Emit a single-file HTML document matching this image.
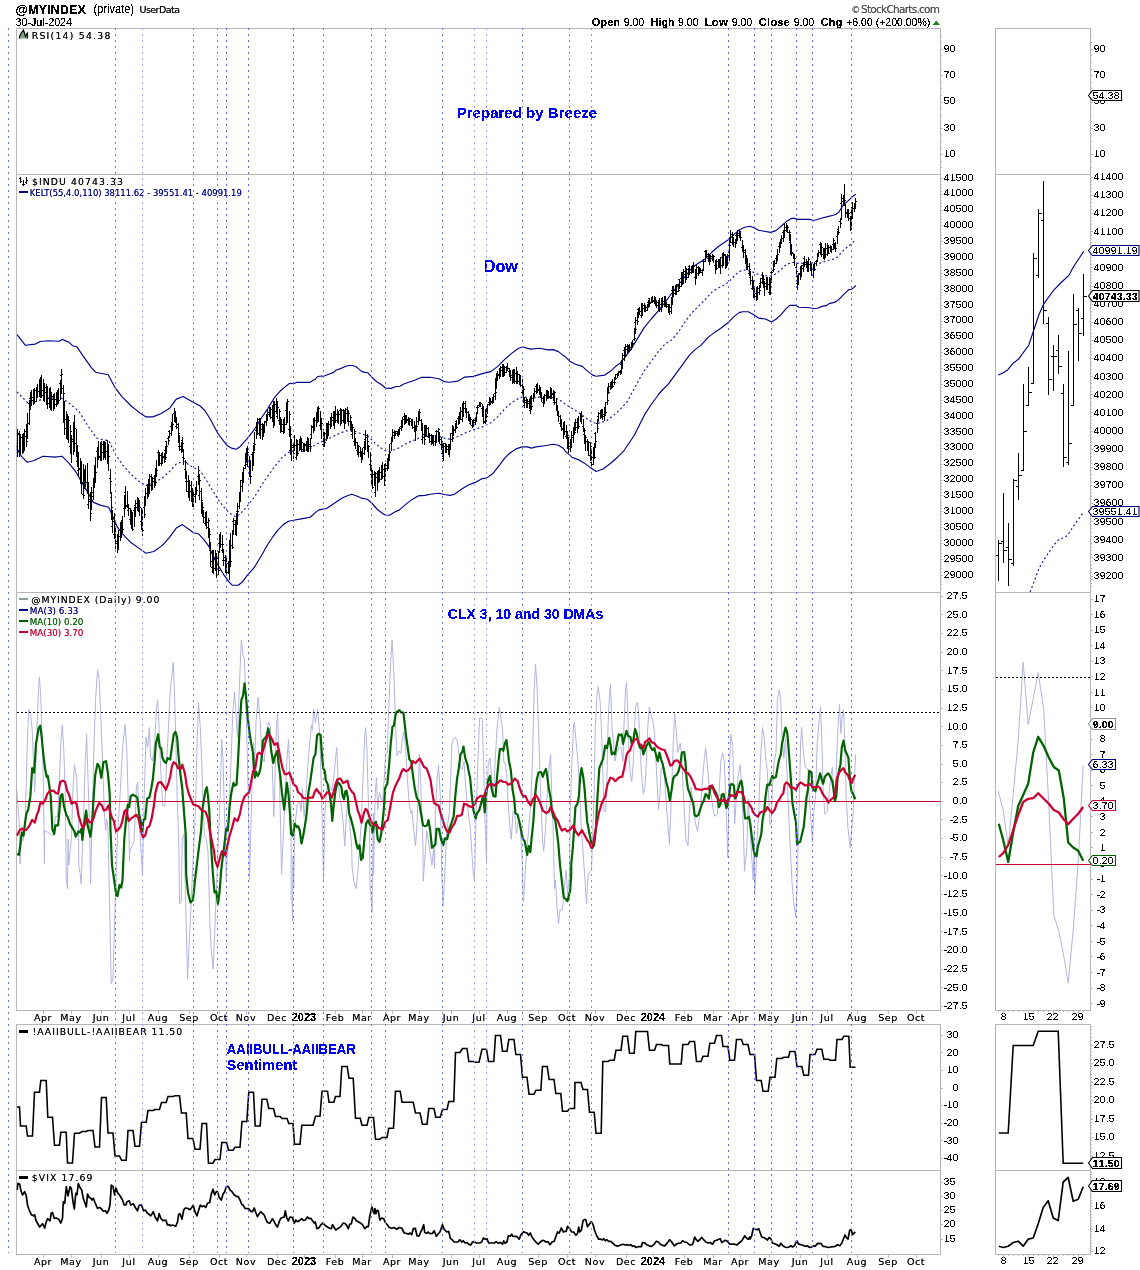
<!DOCTYPE html>
<html><head><meta charset="utf-8"><title>@MYINDEX</title>
<style>
html,body{margin:0;padding:0;background:#fff;}
body{width:1140px;height:1270px;overflow:hidden;}
svg{display:block;}
text{white-space:pre;}
</style></head><body>
<svg width="1140" height="1270" viewBox="0 0 1140 1270">
<defs><filter id="crisp" x="-5%" y="-20%" width="110%" height="140%" color-interpolation-filters="sRGB"><feComponentTransfer><feFuncA type="discrete" tableValues="0 0 1 1 1"/></feComponentTransfer></filter><filter id="crisp2" x="-5%" y="-20%" width="110%" height="140%" color-interpolation-filters="sRGB"><feComponentTransfer><feFuncA type="table" tableValues="0 0.5 0.85 1"/></feComponentTransfer></filter></defs>
<rect x="0" y="0" width="1140" height="1270" fill="#fff"/>
<g shape-rendering="crispEdges">
<rect x="16.5" y="28.5" width="924.0" height="146.0" stroke="#b6b6b6" fill="none" stroke-width="1" />
<rect x="995.5" y="28.5" width="95.0" height="146.0" stroke="#b6b6b6" fill="none" stroke-width="1" />
<rect x="16.5" y="174.5" width="924.0" height="418.0" stroke="#b6b6b6" fill="none" stroke-width="1" />
<rect x="995.5" y="174.5" width="95.0" height="418.0" stroke="#b6b6b6" fill="none" stroke-width="1" />
<rect x="16.5" y="592.5" width="924.0" height="418.0" stroke="#b6b6b6" fill="none" stroke-width="1" />
<rect x="995.5" y="592.5" width="95.0" height="418.0" stroke="#b6b6b6" fill="none" stroke-width="1" />
<rect x="16.5" y="1024.5" width="924.0" height="146.0" stroke="#b6b6b6" fill="none" stroke-width="1" />
<rect x="995.5" y="1024.5" width="95.0" height="146.0" stroke="#b6b6b6" fill="none" stroke-width="1" />
<rect x="16.5" y="1170.5" width="924.0" height="84.0" stroke="#b6b6b6" fill="none" stroke-width="1" />
<rect x="995.5" y="1170.5" width="95.0" height="84.0" stroke="#b6b6b6" fill="none" stroke-width="1" />
</g>
<text x="15.5" y="14" font-family="Liberation Sans, sans-serif" font-size="13.5" text-anchor="start" fill="#000" font-weight="bold"  textLength="70.5" lengthAdjust="spacingAndGlyphs" filter="url(#crisp)">@MYINDEX</text>
<text x="93.5" y="12.5" font-family="Liberation Sans, sans-serif" font-size="12" text-anchor="start" fill="#000" font-weight="normal"  textLength="40.5" lengthAdjust="spacingAndGlyphs" filter="url(#crisp)">(private)</text>
<text x="139.5" y="12.5" font-family="DejaVu Sans, sans-serif" font-size="9.5" text-anchor="start" fill="#000" font-weight="normal"  textLength="40.5" lengthAdjust="spacing" filter="url(#crisp2)">UserData</text>
<text x="15.5" y="25.8" font-family="Liberation Sans, sans-serif" font-size="11" text-anchor="start" fill="#000" font-weight="normal"  textLength="56.5" lengthAdjust="spacingAndGlyphs" filter="url(#crisp)">30-Jul-2024</text>
<text x="851" y="12.5" font-family="DejaVu Sans, sans-serif" font-size="9.5" text-anchor="start" fill="#4a4a4a" font-weight="normal"  textLength="8" lengthAdjust="spacing" filter="url(#crisp2)">©</text>
<text x="861" y="12.5" font-family="DejaVu Sans, sans-serif" font-size="10.5" text-anchor="start" fill="#4a4a4a" font-weight="normal"  textLength="79" lengthAdjust="spacing" filter="url(#crisp2)">StockCharts.com</text>
<text x="591.7" y="25.8" font-family="Liberation Sans, sans-serif" font-size="11" text-anchor="start" fill="#000" font-weight="bold"  textLength="28.5" lengthAdjust="spacingAndGlyphs" filter="url(#crisp)">Open</text>
<text x="623.7" y="25.8" font-family="Liberation Sans, sans-serif" font-size="11" text-anchor="start" fill="#000" font-weight="normal"  textLength="20.5" lengthAdjust="spacingAndGlyphs" filter="url(#crisp)">9.00</text>
<text x="650.8" y="25.8" font-family="Liberation Sans, sans-serif" font-size="11" text-anchor="start" fill="#000" font-weight="bold"  textLength="23.7" lengthAdjust="spacingAndGlyphs" filter="url(#crisp)">High</text>
<text x="678" y="25.8" font-family="Liberation Sans, sans-serif" font-size="11" text-anchor="start" fill="#000" font-weight="normal"  textLength="20.5" lengthAdjust="spacingAndGlyphs" filter="url(#crisp)">9.00</text>
<text x="704.7" y="25.8" font-family="Liberation Sans, sans-serif" font-size="11" text-anchor="start" fill="#000" font-weight="bold"  textLength="23.3" lengthAdjust="spacingAndGlyphs" filter="url(#crisp)">Low</text>
<text x="731.7" y="25.8" font-family="Liberation Sans, sans-serif" font-size="11" text-anchor="start" fill="#000" font-weight="normal"  textLength="20.5" lengthAdjust="spacingAndGlyphs" filter="url(#crisp)">9.00</text>
<text x="758.8" y="25.8" font-family="Liberation Sans, sans-serif" font-size="11" text-anchor="start" fill="#000" font-weight="bold"  textLength="31.2" lengthAdjust="spacingAndGlyphs" filter="url(#crisp)">Close</text>
<text x="793.7" y="25.8" font-family="Liberation Sans, sans-serif" font-size="11" text-anchor="start" fill="#000" font-weight="normal"  textLength="20.5" lengthAdjust="spacingAndGlyphs" filter="url(#crisp)">9.00</text>
<text x="820.8" y="25.8" font-family="Liberation Sans, sans-serif" font-size="11" text-anchor="start" fill="#000" font-weight="bold"  textLength="21.4" lengthAdjust="spacingAndGlyphs" filter="url(#crisp)">Chg</text>
<text x="846.2" y="25.8" font-family="Liberation Sans, sans-serif" font-size="11" text-anchor="start" fill="#000" font-weight="normal"  textLength="84.1" lengthAdjust="spacingAndGlyphs" filter="url(#crisp)">+6.00 (+200.00%)</text>
<polygon points="932.5,25 940,25 936.2,20.5" fill="#2a7a2a"/>
<text x="943.8 949.8" y="52" font-family="Liberation Sans, sans-serif" font-size="10.2" fill="#000" font-weight="normal" text-rendering="geometricPrecision" filter="url(#crisp)">90</text>
<text x="943.8 949.8" y="78" font-family="Liberation Sans, sans-serif" font-size="10.2" fill="#000" font-weight="normal" text-rendering="geometricPrecision" filter="url(#crisp)">70</text>
<text x="943.8 949.8" y="104" font-family="Liberation Sans, sans-serif" font-size="10.2" fill="#000" font-weight="normal" text-rendering="geometricPrecision" filter="url(#crisp)">50</text>
<text x="943.8 949.8" y="131" font-family="Liberation Sans, sans-serif" font-size="10.2" fill="#000" font-weight="normal" text-rendering="geometricPrecision" filter="url(#crisp)">30</text>
<text x="943.8 949.8" y="157" font-family="Liberation Sans, sans-serif" font-size="10.2" fill="#000" font-weight="normal" text-rendering="geometricPrecision" filter="url(#crisp)">10</text>
<text x="1093.8 1099.8" y="52" font-family="Liberation Sans, sans-serif" font-size="10.2" fill="#000" font-weight="normal" text-rendering="geometricPrecision" filter="url(#crisp)">90</text>
<text x="1093.8 1099.8" y="78" font-family="Liberation Sans, sans-serif" font-size="10.2" fill="#000" font-weight="normal" text-rendering="geometricPrecision" filter="url(#crisp)">70</text>
<text x="1093.8 1099.8" y="104" font-family="Liberation Sans, sans-serif" font-size="10.2" fill="#000" font-weight="normal" text-rendering="geometricPrecision" filter="url(#crisp)">50</text>
<text x="1093.8 1099.8" y="131" font-family="Liberation Sans, sans-serif" font-size="10.2" fill="#000" font-weight="normal" text-rendering="geometricPrecision" filter="url(#crisp)">30</text>
<text x="1093.8 1099.8" y="157" font-family="Liberation Sans, sans-serif" font-size="10.2" fill="#000" font-weight="normal" text-rendering="geometricPrecision" filter="url(#crisp)">10</text>
<text x="943.8 949.8 955.8 961.8 967.8" y="181" font-family="Liberation Sans, sans-serif" font-size="10.2" fill="#000" font-weight="normal" text-rendering="geometricPrecision" filter="url(#crisp)">41500</text>
<text x="943.8 949.8 955.8 961.8 967.8" y="196" font-family="Liberation Sans, sans-serif" font-size="10.2" fill="#000" font-weight="normal" text-rendering="geometricPrecision" filter="url(#crisp)">41000</text>
<text x="943.8 949.8 955.8 961.8 967.8" y="212" font-family="Liberation Sans, sans-serif" font-size="10.2" fill="#000" font-weight="normal" text-rendering="geometricPrecision" filter="url(#crisp)">40500</text>
<text x="943.8 949.8 955.8 961.8 967.8" y="228" font-family="Liberation Sans, sans-serif" font-size="10.2" fill="#000" font-weight="normal" text-rendering="geometricPrecision" filter="url(#crisp)">40000</text>
<text x="943.8 949.8 955.8 961.8 967.8" y="244" font-family="Liberation Sans, sans-serif" font-size="10.2" fill="#000" font-weight="normal" text-rendering="geometricPrecision" filter="url(#crisp)">39500</text>
<text x="943.8 949.8 955.8 961.8 967.8" y="260" font-family="Liberation Sans, sans-serif" font-size="10.2" fill="#000" font-weight="normal" text-rendering="geometricPrecision" filter="url(#crisp)">39000</text>
<text x="943.8 949.8 955.8 961.8 967.8" y="276" font-family="Liberation Sans, sans-serif" font-size="10.2" fill="#000" font-weight="normal" text-rendering="geometricPrecision" filter="url(#crisp)">38500</text>
<text x="943.8 949.8 955.8 961.8 967.8" y="292" font-family="Liberation Sans, sans-serif" font-size="10.2" fill="#000" font-weight="normal" text-rendering="geometricPrecision" filter="url(#crisp)">38000</text>
<text x="943.8 949.8 955.8 961.8 967.8" y="308" font-family="Liberation Sans, sans-serif" font-size="10.2" fill="#000" font-weight="normal" text-rendering="geometricPrecision" filter="url(#crisp)">37500</text>
<text x="943.8 949.8 955.8 961.8 967.8" y="323" font-family="Liberation Sans, sans-serif" font-size="10.2" fill="#000" font-weight="normal" text-rendering="geometricPrecision" filter="url(#crisp)">37000</text>
<text x="943.8 949.8 955.8 961.8 967.8" y="339" font-family="Liberation Sans, sans-serif" font-size="10.2" fill="#000" font-weight="normal" text-rendering="geometricPrecision" filter="url(#crisp)">36500</text>
<text x="943.8 949.8 955.8 961.8 967.8" y="355" font-family="Liberation Sans, sans-serif" font-size="10.2" fill="#000" font-weight="normal" text-rendering="geometricPrecision" filter="url(#crisp)">36000</text>
<text x="943.8 949.8 955.8 961.8 967.8" y="371" font-family="Liberation Sans, sans-serif" font-size="10.2" fill="#000" font-weight="normal" text-rendering="geometricPrecision" filter="url(#crisp)">35500</text>
<text x="943.8 949.8 955.8 961.8 967.8" y="387" font-family="Liberation Sans, sans-serif" font-size="10.2" fill="#000" font-weight="normal" text-rendering="geometricPrecision" filter="url(#crisp)">35000</text>
<text x="943.8 949.8 955.8 961.8 967.8" y="403" font-family="Liberation Sans, sans-serif" font-size="10.2" fill="#000" font-weight="normal" text-rendering="geometricPrecision" filter="url(#crisp)">34500</text>
<text x="943.8 949.8 955.8 961.8 967.8" y="419" font-family="Liberation Sans, sans-serif" font-size="10.2" fill="#000" font-weight="normal" text-rendering="geometricPrecision" filter="url(#crisp)">34000</text>
<text x="943.8 949.8 955.8 961.8 967.8" y="435" font-family="Liberation Sans, sans-serif" font-size="10.2" fill="#000" font-weight="normal" text-rendering="geometricPrecision" filter="url(#crisp)">33500</text>
<text x="943.8 949.8 955.8 961.8 967.8" y="450" font-family="Liberation Sans, sans-serif" font-size="10.2" fill="#000" font-weight="normal" text-rendering="geometricPrecision" filter="url(#crisp)">33000</text>
<text x="943.8 949.8 955.8 961.8 967.8" y="466" font-family="Liberation Sans, sans-serif" font-size="10.2" fill="#000" font-weight="normal" text-rendering="geometricPrecision" filter="url(#crisp)">32500</text>
<text x="943.8 949.8 955.8 961.8 967.8" y="482" font-family="Liberation Sans, sans-serif" font-size="10.2" fill="#000" font-weight="normal" text-rendering="geometricPrecision" filter="url(#crisp)">32000</text>
<text x="943.8 949.8 955.8 961.8 967.8" y="498" font-family="Liberation Sans, sans-serif" font-size="10.2" fill="#000" font-weight="normal" text-rendering="geometricPrecision" filter="url(#crisp)">31500</text>
<text x="943.8 949.8 955.8 961.8 967.8" y="514" font-family="Liberation Sans, sans-serif" font-size="10.2" fill="#000" font-weight="normal" text-rendering="geometricPrecision" filter="url(#crisp)">31000</text>
<text x="943.8 949.8 955.8 961.8 967.8" y="530" font-family="Liberation Sans, sans-serif" font-size="10.2" fill="#000" font-weight="normal" text-rendering="geometricPrecision" filter="url(#crisp)">30500</text>
<text x="943.8 949.8 955.8 961.8 967.8" y="546" font-family="Liberation Sans, sans-serif" font-size="10.2" fill="#000" font-weight="normal" text-rendering="geometricPrecision" filter="url(#crisp)">30000</text>
<text x="943.8 949.8 955.8 961.8 967.8" y="562" font-family="Liberation Sans, sans-serif" font-size="10.2" fill="#000" font-weight="normal" text-rendering="geometricPrecision" filter="url(#crisp)">29500</text>
<text x="943.8 949.8 955.8 961.8 967.8" y="578" font-family="Liberation Sans, sans-serif" font-size="10.2" fill="#000" font-weight="normal" text-rendering="geometricPrecision" filter="url(#crisp)">29000</text>
<text x="1093.8 1099.8 1105.8 1111.8 1117.8" y="180" font-family="Liberation Sans, sans-serif" font-size="10.2" fill="#000" font-weight="normal" text-rendering="geometricPrecision" filter="url(#crisp)">41400</text>
<text x="1093.8 1099.8 1105.8 1111.8 1117.8" y="198" font-family="Liberation Sans, sans-serif" font-size="10.2" fill="#000" font-weight="normal" text-rendering="geometricPrecision" filter="url(#crisp)">41300</text>
<text x="1093.8 1099.8 1105.8 1111.8 1117.8" y="216" font-family="Liberation Sans, sans-serif" font-size="10.2" fill="#000" font-weight="normal" text-rendering="geometricPrecision" filter="url(#crisp)">41200</text>
<text x="1093.8 1099.8 1105.8 1111.8 1117.8" y="235" font-family="Liberation Sans, sans-serif" font-size="10.2" fill="#000" font-weight="normal" text-rendering="geometricPrecision" filter="url(#crisp)">41100</text>
<text x="1093.8 1099.8 1105.8 1111.8 1117.8" y="253" font-family="Liberation Sans, sans-serif" font-size="10.2" fill="#000" font-weight="normal" text-rendering="geometricPrecision" filter="url(#crisp)">41000</text>
<text x="1093.8 1099.8 1105.8 1111.8 1117.8" y="271" font-family="Liberation Sans, sans-serif" font-size="10.2" fill="#000" font-weight="normal" text-rendering="geometricPrecision" filter="url(#crisp)">40900</text>
<text x="1093.8 1099.8 1105.8 1111.8 1117.8" y="289" font-family="Liberation Sans, sans-serif" font-size="10.2" fill="#000" font-weight="normal" text-rendering="geometricPrecision" filter="url(#crisp)">40800</text>
<text x="1093.8 1099.8 1105.8 1111.8 1117.8" y="307" font-family="Liberation Sans, sans-serif" font-size="10.2" fill="#000" font-weight="normal" text-rendering="geometricPrecision" filter="url(#crisp)">40700</text>
<text x="1093.8 1099.8 1105.8 1111.8 1117.8" y="325" font-family="Liberation Sans, sans-serif" font-size="10.2" fill="#000" font-weight="normal" text-rendering="geometricPrecision" filter="url(#crisp)">40600</text>
<text x="1093.8 1099.8 1105.8 1111.8 1117.8" y="343" font-family="Liberation Sans, sans-serif" font-size="10.2" fill="#000" font-weight="normal" text-rendering="geometricPrecision" filter="url(#crisp)">40500</text>
<text x="1093.8 1099.8 1105.8 1111.8 1117.8" y="361" font-family="Liberation Sans, sans-serif" font-size="10.2" fill="#000" font-weight="normal" text-rendering="geometricPrecision" filter="url(#crisp)">40400</text>
<text x="1093.8 1099.8 1105.8 1111.8 1117.8" y="380" font-family="Liberation Sans, sans-serif" font-size="10.2" fill="#000" font-weight="normal" text-rendering="geometricPrecision" filter="url(#crisp)">40300</text>
<text x="1093.8 1099.8 1105.8 1111.8 1117.8" y="398" font-family="Liberation Sans, sans-serif" font-size="10.2" fill="#000" font-weight="normal" text-rendering="geometricPrecision" filter="url(#crisp)">40200</text>
<text x="1093.8 1099.8 1105.8 1111.8 1117.8" y="416" font-family="Liberation Sans, sans-serif" font-size="10.2" fill="#000" font-weight="normal" text-rendering="geometricPrecision" filter="url(#crisp)">40100</text>
<text x="1093.8 1099.8 1105.8 1111.8 1117.8" y="434" font-family="Liberation Sans, sans-serif" font-size="10.2" fill="#000" font-weight="normal" text-rendering="geometricPrecision" filter="url(#crisp)">40000</text>
<text x="1093.8 1099.8 1105.8 1111.8 1117.8" y="452" font-family="Liberation Sans, sans-serif" font-size="10.2" fill="#000" font-weight="normal" text-rendering="geometricPrecision" filter="url(#crisp)">39900</text>
<text x="1093.8 1099.8 1105.8 1111.8 1117.8" y="470" font-family="Liberation Sans, sans-serif" font-size="10.2" fill="#000" font-weight="normal" text-rendering="geometricPrecision" filter="url(#crisp)">39800</text>
<text x="1093.8 1099.8 1105.8 1111.8 1117.8" y="488" font-family="Liberation Sans, sans-serif" font-size="10.2" fill="#000" font-weight="normal" text-rendering="geometricPrecision" filter="url(#crisp)">39700</text>
<text x="1093.8 1099.8 1105.8 1111.8 1117.8" y="506" font-family="Liberation Sans, sans-serif" font-size="10.2" fill="#000" font-weight="normal" text-rendering="geometricPrecision" filter="url(#crisp)">39600</text>
<text x="1093.8 1099.8 1105.8 1111.8 1117.8" y="525" font-family="Liberation Sans, sans-serif" font-size="10.2" fill="#000" font-weight="normal" text-rendering="geometricPrecision" filter="url(#crisp)">39500</text>
<text x="1093.8 1099.8 1105.8 1111.8 1117.8" y="543" font-family="Liberation Sans, sans-serif" font-size="10.2" fill="#000" font-weight="normal" text-rendering="geometricPrecision" filter="url(#crisp)">39400</text>
<text x="1093.8 1099.8 1105.8 1111.8 1117.8" y="561" font-family="Liberation Sans, sans-serif" font-size="10.2" fill="#000" font-weight="normal" text-rendering="geometricPrecision" filter="url(#crisp)">39300</text>
<text x="1093.8 1099.8 1105.8 1111.8 1117.8" y="579" font-family="Liberation Sans, sans-serif" font-size="10.2" fill="#000" font-weight="normal" text-rendering="geometricPrecision" filter="url(#crisp)">39200</text>
<text x="946.8 952.8 958.8 961.8" y="599" font-family="Liberation Sans, sans-serif" font-size="10.2" fill="#000" font-weight="normal" text-rendering="geometricPrecision" filter="url(#crisp)">27.5</text>
<text x="946.8 952.8 958.8 961.8" y="618" font-family="Liberation Sans, sans-serif" font-size="10.2" fill="#000" font-weight="normal" text-rendering="geometricPrecision" filter="url(#crisp)">25.0</text>
<text x="946.8 952.8 958.8 961.8" y="636" font-family="Liberation Sans, sans-serif" font-size="10.2" fill="#000" font-weight="normal" text-rendering="geometricPrecision" filter="url(#crisp)">22.5</text>
<text x="946.8 952.8 958.8 961.8" y="655" font-family="Liberation Sans, sans-serif" font-size="10.2" fill="#000" font-weight="normal" text-rendering="geometricPrecision" filter="url(#crisp)">20.0</text>
<text x="946.8 952.8 958.8 961.8" y="674" font-family="Liberation Sans, sans-serif" font-size="10.2" fill="#000" font-weight="normal" text-rendering="geometricPrecision" filter="url(#crisp)">17.5</text>
<text x="946.8 952.8 958.8 961.8" y="692" font-family="Liberation Sans, sans-serif" font-size="10.2" fill="#000" font-weight="normal" text-rendering="geometricPrecision" filter="url(#crisp)">15.0</text>
<text x="946.8 952.8 958.8 961.8" y="711" font-family="Liberation Sans, sans-serif" font-size="10.2" fill="#000" font-weight="normal" text-rendering="geometricPrecision" filter="url(#crisp)">12.5</text>
<text x="946.8 952.8 958.8 961.8" y="730" font-family="Liberation Sans, sans-serif" font-size="10.2" fill="#000" font-weight="normal" text-rendering="geometricPrecision" filter="url(#crisp)">10.0</text>
<text x="952.8 958.8 961.8" y="748" font-family="Liberation Sans, sans-serif" font-size="10.2" fill="#000" font-weight="normal" text-rendering="geometricPrecision" filter="url(#crisp)">7.5</text>
<text x="952.8 958.8 961.8" y="767" font-family="Liberation Sans, sans-serif" font-size="10.2" fill="#000" font-weight="normal" text-rendering="geometricPrecision" filter="url(#crisp)">5.0</text>
<text x="952.8 958.8 961.8" y="785" font-family="Liberation Sans, sans-serif" font-size="10.2" fill="#000" font-weight="normal" text-rendering="geometricPrecision" filter="url(#crisp)">2.5</text>
<text x="952.8 958.8 961.8" y="804" font-family="Liberation Sans, sans-serif" font-size="10.2" fill="#000" font-weight="normal" text-rendering="geometricPrecision" filter="url(#crisp)">0.0</text>
<text x="949.8 952.8 958.8 961.8" y="823" font-family="Liberation Sans, sans-serif" font-size="10.2" fill="#000" font-weight="normal" text-rendering="geometricPrecision" filter="url(#crisp)">-2.5</text>
<text x="949.8 952.8 958.8 961.8" y="841" font-family="Liberation Sans, sans-serif" font-size="10.2" fill="#000" font-weight="normal" text-rendering="geometricPrecision" filter="url(#crisp)">-5.0</text>
<text x="949.8 952.8 958.8 961.8" y="860" font-family="Liberation Sans, sans-serif" font-size="10.2" fill="#000" font-weight="normal" text-rendering="geometricPrecision" filter="url(#crisp)">-7.5</text>
<text x="943.8 946.8 952.8 958.8 961.8" y="879" font-family="Liberation Sans, sans-serif" font-size="10.2" fill="#000" font-weight="normal" text-rendering="geometricPrecision" filter="url(#crisp)">-10.0</text>
<text x="943.8 946.8 952.8 958.8 961.8" y="897" font-family="Liberation Sans, sans-serif" font-size="10.2" fill="#000" font-weight="normal" text-rendering="geometricPrecision" filter="url(#crisp)">-12.5</text>
<text x="943.8 946.8 952.8 958.8 961.8" y="916" font-family="Liberation Sans, sans-serif" font-size="10.2" fill="#000" font-weight="normal" text-rendering="geometricPrecision" filter="url(#crisp)">-15.0</text>
<text x="943.8 946.8 952.8 958.8 961.8" y="935" font-family="Liberation Sans, sans-serif" font-size="10.2" fill="#000" font-weight="normal" text-rendering="geometricPrecision" filter="url(#crisp)">-17.5</text>
<text x="943.8 946.8 952.8 958.8 961.8" y="953" font-family="Liberation Sans, sans-serif" font-size="10.2" fill="#000" font-weight="normal" text-rendering="geometricPrecision" filter="url(#crisp)">-20.0</text>
<text x="943.8 946.8 952.8 958.8 961.8" y="972" font-family="Liberation Sans, sans-serif" font-size="10.2" fill="#000" font-weight="normal" text-rendering="geometricPrecision" filter="url(#crisp)">-22.5</text>
<text x="943.8 946.8 952.8 958.8 961.8" y="991" font-family="Liberation Sans, sans-serif" font-size="10.2" fill="#000" font-weight="normal" text-rendering="geometricPrecision" filter="url(#crisp)">-25.0</text>
<text x="943.8 946.8 952.8 958.8 961.8" y="1009" font-family="Liberation Sans, sans-serif" font-size="10.2" fill="#000" font-weight="normal" text-rendering="geometricPrecision" filter="url(#crisp)">-27.5</text>
<text x="1093.8 1099.8" y="602" font-family="Liberation Sans, sans-serif" font-size="10.2" fill="#000" font-weight="normal" text-rendering="geometricPrecision" filter="url(#crisp)">17</text>
<text x="1093.8 1099.8" y="618" font-family="Liberation Sans, sans-serif" font-size="10.2" fill="#000" font-weight="normal" text-rendering="geometricPrecision" filter="url(#crisp)">16</text>
<text x="1093.8 1099.8" y="633" font-family="Liberation Sans, sans-serif" font-size="10.2" fill="#000" font-weight="normal" text-rendering="geometricPrecision" filter="url(#crisp)">15</text>
<text x="1093.8 1099.8" y="649" font-family="Liberation Sans, sans-serif" font-size="10.2" fill="#000" font-weight="normal" text-rendering="geometricPrecision" filter="url(#crisp)">14</text>
<text x="1093.8 1099.8" y="664" font-family="Liberation Sans, sans-serif" font-size="10.2" fill="#000" font-weight="normal" text-rendering="geometricPrecision" filter="url(#crisp)">13</text>
<text x="1093.8 1099.8" y="680" font-family="Liberation Sans, sans-serif" font-size="10.2" fill="#000" font-weight="normal" text-rendering="geometricPrecision" filter="url(#crisp)">12</text>
<text x="1093.8 1099.8" y="696" font-family="Liberation Sans, sans-serif" font-size="10.2" fill="#000" font-weight="normal" text-rendering="geometricPrecision" filter="url(#crisp)">11</text>
<text x="1093.8 1099.8" y="711" font-family="Liberation Sans, sans-serif" font-size="10.2" fill="#000" font-weight="normal" text-rendering="geometricPrecision" filter="url(#crisp)">10</text>
<text x="1099.8" y="727" font-family="Liberation Sans, sans-serif" font-size="10.2" fill="#000" font-weight="normal" text-rendering="geometricPrecision" filter="url(#crisp)">9</text>
<text x="1099.8" y="742" font-family="Liberation Sans, sans-serif" font-size="10.2" fill="#000" font-weight="normal" text-rendering="geometricPrecision" filter="url(#crisp)">8</text>
<text x="1099.8" y="758" font-family="Liberation Sans, sans-serif" font-size="10.2" fill="#000" font-weight="normal" text-rendering="geometricPrecision" filter="url(#crisp)">7</text>
<text x="1099.8" y="773" font-family="Liberation Sans, sans-serif" font-size="10.2" fill="#000" font-weight="normal" text-rendering="geometricPrecision" filter="url(#crisp)">6</text>
<text x="1099.8" y="789" font-family="Liberation Sans, sans-serif" font-size="10.2" fill="#000" font-weight="normal" text-rendering="geometricPrecision" filter="url(#crisp)">5</text>
<text x="1099.8" y="804" font-family="Liberation Sans, sans-serif" font-size="10.2" fill="#000" font-weight="normal" text-rendering="geometricPrecision" filter="url(#crisp)">4</text>
<text x="1099.8" y="820" font-family="Liberation Sans, sans-serif" font-size="10.2" fill="#000" font-weight="normal" text-rendering="geometricPrecision" filter="url(#crisp)">3</text>
<text x="1099.8" y="836" font-family="Liberation Sans, sans-serif" font-size="10.2" fill="#000" font-weight="normal" text-rendering="geometricPrecision" filter="url(#crisp)">2</text>
<text x="1099.8" y="851" font-family="Liberation Sans, sans-serif" font-size="10.2" fill="#000" font-weight="normal" text-rendering="geometricPrecision" filter="url(#crisp)">1</text>
<text x="1099.8" y="867" font-family="Liberation Sans, sans-serif" font-size="10.2" fill="#000" font-weight="normal" text-rendering="geometricPrecision" filter="url(#crisp)">0</text>
<text x="1096.8 1099.8" y="882" font-family="Liberation Sans, sans-serif" font-size="10.2" fill="#000" font-weight="normal" text-rendering="geometricPrecision" filter="url(#crisp)">-1</text>
<text x="1096.8 1099.8" y="898" font-family="Liberation Sans, sans-serif" font-size="10.2" fill="#000" font-weight="normal" text-rendering="geometricPrecision" filter="url(#crisp)">-2</text>
<text x="1096.8 1099.8" y="913" font-family="Liberation Sans, sans-serif" font-size="10.2" fill="#000" font-weight="normal" text-rendering="geometricPrecision" filter="url(#crisp)">-3</text>
<text x="1096.8 1099.8" y="929" font-family="Liberation Sans, sans-serif" font-size="10.2" fill="#000" font-weight="normal" text-rendering="geometricPrecision" filter="url(#crisp)">-4</text>
<text x="1096.8 1099.8" y="945" font-family="Liberation Sans, sans-serif" font-size="10.2" fill="#000" font-weight="normal" text-rendering="geometricPrecision" filter="url(#crisp)">-5</text>
<text x="1096.8 1099.8" y="960" font-family="Liberation Sans, sans-serif" font-size="10.2" fill="#000" font-weight="normal" text-rendering="geometricPrecision" filter="url(#crisp)">-6</text>
<text x="1096.8 1099.8" y="976" font-family="Liberation Sans, sans-serif" font-size="10.2" fill="#000" font-weight="normal" text-rendering="geometricPrecision" filter="url(#crisp)">-7</text>
<text x="1096.8 1099.8" y="991" font-family="Liberation Sans, sans-serif" font-size="10.2" fill="#000" font-weight="normal" text-rendering="geometricPrecision" filter="url(#crisp)">-8</text>
<text x="1096.8 1099.8" y="1007" font-family="Liberation Sans, sans-serif" font-size="10.2" fill="#000" font-weight="normal" text-rendering="geometricPrecision" filter="url(#crisp)">-9</text>
<text x="946.8 952.8" y="1038" font-family="Liberation Sans, sans-serif" font-size="10.2" fill="#000" font-weight="normal" text-rendering="geometricPrecision" filter="url(#crisp)">30</text>
<text x="946.8 952.8" y="1056" font-family="Liberation Sans, sans-serif" font-size="10.2" fill="#000" font-weight="normal" text-rendering="geometricPrecision" filter="url(#crisp)">20</text>
<text x="946.8 952.8" y="1073" font-family="Liberation Sans, sans-serif" font-size="10.2" fill="#000" font-weight="normal" text-rendering="geometricPrecision" filter="url(#crisp)">10</text>
<text x="952.8" y="1091" font-family="Liberation Sans, sans-serif" font-size="10.2" fill="#000" font-weight="normal" text-rendering="geometricPrecision" filter="url(#crisp)">0</text>
<text x="943.8 946.8 952.8" y="1108" font-family="Liberation Sans, sans-serif" font-size="10.2" fill="#000" font-weight="normal" text-rendering="geometricPrecision" filter="url(#crisp)">-10</text>
<text x="943.8 946.8 952.8" y="1126" font-family="Liberation Sans, sans-serif" font-size="10.2" fill="#000" font-weight="normal" text-rendering="geometricPrecision" filter="url(#crisp)">-20</text>
<text x="943.8 946.8 952.8" y="1144" font-family="Liberation Sans, sans-serif" font-size="10.2" fill="#000" font-weight="normal" text-rendering="geometricPrecision" filter="url(#crisp)">-30</text>
<text x="943.8 946.8 952.8" y="1161" font-family="Liberation Sans, sans-serif" font-size="10.2" fill="#000" font-weight="normal" text-rendering="geometricPrecision" filter="url(#crisp)">-40</text>
<text x="1093.8 1099.8 1105.8 1108.8" y="1048" font-family="Liberation Sans, sans-serif" font-size="10.2" fill="#000" font-weight="normal" text-rendering="geometricPrecision" filter="url(#crisp)">27.5</text>
<text x="1093.8 1099.8 1105.8 1108.8" y="1066" font-family="Liberation Sans, sans-serif" font-size="10.2" fill="#000" font-weight="normal" text-rendering="geometricPrecision" filter="url(#crisp)">25.0</text>
<text x="1093.8 1099.8 1105.8 1108.8" y="1085" font-family="Liberation Sans, sans-serif" font-size="10.2" fill="#000" font-weight="normal" text-rendering="geometricPrecision" filter="url(#crisp)">22.5</text>
<text x="1093.8 1099.8 1105.8 1108.8" y="1103" font-family="Liberation Sans, sans-serif" font-size="10.2" fill="#000" font-weight="normal" text-rendering="geometricPrecision" filter="url(#crisp)">20.0</text>
<text x="1093.8 1099.8 1105.8 1108.8" y="1122" font-family="Liberation Sans, sans-serif" font-size="10.2" fill="#000" font-weight="normal" text-rendering="geometricPrecision" filter="url(#crisp)">17.5</text>
<text x="1093.8 1099.8 1105.8 1108.8" y="1140" font-family="Liberation Sans, sans-serif" font-size="10.2" fill="#000" font-weight="normal" text-rendering="geometricPrecision" filter="url(#crisp)">15.0</text>
<text x="1093.8 1099.8 1105.8 1108.8" y="1159" font-family="Liberation Sans, sans-serif" font-size="10.2" fill="#000" font-weight="normal" text-rendering="geometricPrecision" filter="url(#crisp)">12.5</text>
<text x="943.8 949.8" y="1185" font-family="Liberation Sans, sans-serif" font-size="10.2" fill="#000" font-weight="normal" text-rendering="geometricPrecision" filter="url(#crisp)">35</text>
<text x="943.8 949.8" y="1199" font-family="Liberation Sans, sans-serif" font-size="10.2" fill="#000" font-weight="normal" text-rendering="geometricPrecision" filter="url(#crisp)">30</text>
<text x="943.8 949.8" y="1213" font-family="Liberation Sans, sans-serif" font-size="10.2" fill="#000" font-weight="normal" text-rendering="geometricPrecision" filter="url(#crisp)">25</text>
<text x="943.8 949.8" y="1227" font-family="Liberation Sans, sans-serif" font-size="10.2" fill="#000" font-weight="normal" text-rendering="geometricPrecision" filter="url(#crisp)">20</text>
<text x="943.8 949.8" y="1242" font-family="Liberation Sans, sans-serif" font-size="10.2" fill="#000" font-weight="normal" text-rendering="geometricPrecision" filter="url(#crisp)">15</text>
<text x="1093.8 1099.8" y="1185" font-family="Liberation Sans, sans-serif" font-size="10.2" fill="#000" font-weight="normal" text-rendering="geometricPrecision" filter="url(#crisp)">18</text>
<text x="1093.8 1099.8" y="1209" font-family="Liberation Sans, sans-serif" font-size="10.2" fill="#000" font-weight="normal" text-rendering="geometricPrecision" filter="url(#crisp)">16</text>
<text x="1093.8 1099.8" y="1232" font-family="Liberation Sans, sans-serif" font-size="10.2" fill="#000" font-weight="normal" text-rendering="geometricPrecision" filter="url(#crisp)">14</text>
<text x="1093.8 1099.8" y="1254" font-family="Liberation Sans, sans-serif" font-size="10.2" fill="#000" font-weight="normal" text-rendering="geometricPrecision" filter="url(#crisp)">12</text>
<text x="43" y="1020.7" font-family="DejaVu Sans, sans-serif" font-size="9.5" text-anchor="middle" fill="#000" font-weight="normal" letter-spacing="0.6" filter="url(#crisp2)">Apr</text>
<text x="71" y="1020.7" font-family="DejaVu Sans, sans-serif" font-size="9.5" text-anchor="middle" fill="#000" font-weight="normal" letter-spacing="0.6" filter="url(#crisp2)">May</text>
<text x="101" y="1020.7" font-family="DejaVu Sans, sans-serif" font-size="9.5" text-anchor="middle" fill="#000" font-weight="normal" letter-spacing="0.6" filter="url(#crisp2)">Jun</text>
<text x="129" y="1020.7" font-family="DejaVu Sans, sans-serif" font-size="9.5" text-anchor="middle" fill="#000" font-weight="normal" letter-spacing="0.6" filter="url(#crisp2)">Jul</text>
<text x="158" y="1020.7" font-family="DejaVu Sans, sans-serif" font-size="9.5" text-anchor="middle" fill="#000" font-weight="normal" letter-spacing="0.6" filter="url(#crisp2)">Aug</text>
<text x="189" y="1020.7" font-family="DejaVu Sans, sans-serif" font-size="9.5" text-anchor="middle" fill="#000" font-weight="normal" letter-spacing="0.6" filter="url(#crisp2)">Sep</text>
<text x="219" y="1020.7" font-family="DejaVu Sans, sans-serif" font-size="9.5" text-anchor="middle" fill="#000" font-weight="normal" letter-spacing="0.6" filter="url(#crisp2)">Oct</text>
<text x="246" y="1020.7" font-family="DejaVu Sans, sans-serif" font-size="9.5" text-anchor="middle" fill="#000" font-weight="normal" letter-spacing="0.6" filter="url(#crisp2)">Nov</text>
<text x="277" y="1020.7" font-family="DejaVu Sans, sans-serif" font-size="9.5" text-anchor="middle" fill="#000" font-weight="normal" letter-spacing="0.6" filter="url(#crisp2)">Dec</text>
<text x="304" y="1020.7" font-family="Liberation Sans, sans-serif" font-size="11" text-anchor="middle" fill="#000" font-weight="bold"  filter="url(#crisp)">2023</text>
<text x="335" y="1020.7" font-family="DejaVu Sans, sans-serif" font-size="9.5" text-anchor="middle" fill="#000" font-weight="normal" letter-spacing="0.6" filter="url(#crisp2)">Feb</text>
<text x="362" y="1020.7" font-family="DejaVu Sans, sans-serif" font-size="9.5" text-anchor="middle" fill="#000" font-weight="normal" letter-spacing="0.6" filter="url(#crisp2)">Mar</text>
<text x="392" y="1020.7" font-family="DejaVu Sans, sans-serif" font-size="9.5" text-anchor="middle" fill="#000" font-weight="normal" letter-spacing="0.6" filter="url(#crisp2)">Apr</text>
<text x="419" y="1020.7" font-family="DejaVu Sans, sans-serif" font-size="9.5" text-anchor="middle" fill="#000" font-weight="normal" letter-spacing="0.6" filter="url(#crisp2)">May</text>
<text x="451" y="1020.7" font-family="DejaVu Sans, sans-serif" font-size="9.5" text-anchor="middle" fill="#000" font-weight="normal" letter-spacing="0.6" filter="url(#crisp2)">Jun</text>
<text x="479" y="1020.7" font-family="DejaVu Sans, sans-serif" font-size="9.5" text-anchor="middle" fill="#000" font-weight="normal" letter-spacing="0.6" filter="url(#crisp2)">Jul</text>
<text x="507" y="1020.7" font-family="DejaVu Sans, sans-serif" font-size="9.5" text-anchor="middle" fill="#000" font-weight="normal" letter-spacing="0.6" filter="url(#crisp2)">Aug</text>
<text x="538" y="1020.7" font-family="DejaVu Sans, sans-serif" font-size="9.5" text-anchor="middle" fill="#000" font-weight="normal" letter-spacing="0.6" filter="url(#crisp2)">Sep</text>
<text x="567" y="1020.7" font-family="DejaVu Sans, sans-serif" font-size="9.5" text-anchor="middle" fill="#000" font-weight="normal" letter-spacing="0.6" filter="url(#crisp2)">Oct</text>
<text x="595" y="1020.7" font-family="DejaVu Sans, sans-serif" font-size="9.5" text-anchor="middle" fill="#000" font-weight="normal" letter-spacing="0.6" filter="url(#crisp2)">Nov</text>
<text x="626" y="1020.7" font-family="DejaVu Sans, sans-serif" font-size="9.5" text-anchor="middle" fill="#000" font-weight="normal" letter-spacing="0.6" filter="url(#crisp2)">Dec</text>
<text x="653" y="1020.7" font-family="Liberation Sans, sans-serif" font-size="11" text-anchor="middle" fill="#000" font-weight="bold"  filter="url(#crisp)">2024</text>
<text x="684" y="1020.7" font-family="DejaVu Sans, sans-serif" font-size="9.5" text-anchor="middle" fill="#000" font-weight="normal" letter-spacing="0.6" filter="url(#crisp2)">Feb</text>
<text x="713" y="1020.7" font-family="DejaVu Sans, sans-serif" font-size="9.5" text-anchor="middle" fill="#000" font-weight="normal" letter-spacing="0.6" filter="url(#crisp2)">Mar</text>
<text x="740" y="1020.7" font-family="DejaVu Sans, sans-serif" font-size="9.5" text-anchor="middle" fill="#000" font-weight="normal" letter-spacing="0.6" filter="url(#crisp2)">Apr</text>
<text x="769" y="1020.7" font-family="DejaVu Sans, sans-serif" font-size="9.5" text-anchor="middle" fill="#000" font-weight="normal" letter-spacing="0.6" filter="url(#crisp2)">May</text>
<text x="800" y="1020.7" font-family="DejaVu Sans, sans-serif" font-size="9.5" text-anchor="middle" fill="#000" font-weight="normal" letter-spacing="0.6" filter="url(#crisp2)">Jun</text>
<text x="827" y="1020.7" font-family="DejaVu Sans, sans-serif" font-size="9.5" text-anchor="middle" fill="#000" font-weight="normal" letter-spacing="0.6" filter="url(#crisp2)">Jul</text>
<text x="857" y="1020.7" font-family="DejaVu Sans, sans-serif" font-size="9.5" text-anchor="middle" fill="#000" font-weight="normal" letter-spacing="0.6" filter="url(#crisp2)">Aug</text>
<text x="888" y="1020.7" font-family="DejaVu Sans, sans-serif" font-size="9.5" text-anchor="middle" fill="#000" font-weight="normal" letter-spacing="0.6" filter="url(#crisp2)">Sep</text>
<text x="916" y="1020.7" font-family="DejaVu Sans, sans-serif" font-size="9.5" text-anchor="middle" fill="#000" font-weight="normal" letter-spacing="0.6" filter="url(#crisp2)">Oct</text>
<text x="1000.8" y="1020" font-family="Liberation Sans, sans-serif" font-size="10.2" fill="#000" font-weight="normal" text-rendering="geometricPrecision" filter="url(#crisp)">8</text>
<text x="1022.8 1028.8" y="1020" font-family="Liberation Sans, sans-serif" font-size="10.2" fill="#000" font-weight="normal" text-rendering="geometricPrecision" filter="url(#crisp)">15</text>
<text x="1046.8 1052.8" y="1020" font-family="Liberation Sans, sans-serif" font-size="10.2" fill="#000" font-weight="normal" text-rendering="geometricPrecision" filter="url(#crisp)">22</text>
<text x="1071.8 1077.8" y="1020" font-family="Liberation Sans, sans-serif" font-size="10.2" fill="#000" font-weight="normal" text-rendering="geometricPrecision" filter="url(#crisp)">29</text>
<text x="43" y="1264.7" font-family="DejaVu Sans, sans-serif" font-size="9.5" text-anchor="middle" fill="#000" font-weight="normal" letter-spacing="0.6" filter="url(#crisp2)">Apr</text>
<text x="71" y="1264.7" font-family="DejaVu Sans, sans-serif" font-size="9.5" text-anchor="middle" fill="#000" font-weight="normal" letter-spacing="0.6" filter="url(#crisp2)">May</text>
<text x="101" y="1264.7" font-family="DejaVu Sans, sans-serif" font-size="9.5" text-anchor="middle" fill="#000" font-weight="normal" letter-spacing="0.6" filter="url(#crisp2)">Jun</text>
<text x="129" y="1264.7" font-family="DejaVu Sans, sans-serif" font-size="9.5" text-anchor="middle" fill="#000" font-weight="normal" letter-spacing="0.6" filter="url(#crisp2)">Jul</text>
<text x="158" y="1264.7" font-family="DejaVu Sans, sans-serif" font-size="9.5" text-anchor="middle" fill="#000" font-weight="normal" letter-spacing="0.6" filter="url(#crisp2)">Aug</text>
<text x="189" y="1264.7" font-family="DejaVu Sans, sans-serif" font-size="9.5" text-anchor="middle" fill="#000" font-weight="normal" letter-spacing="0.6" filter="url(#crisp2)">Sep</text>
<text x="219" y="1264.7" font-family="DejaVu Sans, sans-serif" font-size="9.5" text-anchor="middle" fill="#000" font-weight="normal" letter-spacing="0.6" filter="url(#crisp2)">Oct</text>
<text x="246" y="1264.7" font-family="DejaVu Sans, sans-serif" font-size="9.5" text-anchor="middle" fill="#000" font-weight="normal" letter-spacing="0.6" filter="url(#crisp2)">Nov</text>
<text x="277" y="1264.7" font-family="DejaVu Sans, sans-serif" font-size="9.5" text-anchor="middle" fill="#000" font-weight="normal" letter-spacing="0.6" filter="url(#crisp2)">Dec</text>
<text x="304" y="1264.7" font-family="Liberation Sans, sans-serif" font-size="11" text-anchor="middle" fill="#000" font-weight="bold"  filter="url(#crisp)">2023</text>
<text x="335" y="1264.7" font-family="DejaVu Sans, sans-serif" font-size="9.5" text-anchor="middle" fill="#000" font-weight="normal" letter-spacing="0.6" filter="url(#crisp2)">Feb</text>
<text x="362" y="1264.7" font-family="DejaVu Sans, sans-serif" font-size="9.5" text-anchor="middle" fill="#000" font-weight="normal" letter-spacing="0.6" filter="url(#crisp2)">Mar</text>
<text x="392" y="1264.7" font-family="DejaVu Sans, sans-serif" font-size="9.5" text-anchor="middle" fill="#000" font-weight="normal" letter-spacing="0.6" filter="url(#crisp2)">Apr</text>
<text x="419" y="1264.7" font-family="DejaVu Sans, sans-serif" font-size="9.5" text-anchor="middle" fill="#000" font-weight="normal" letter-spacing="0.6" filter="url(#crisp2)">May</text>
<text x="451" y="1264.7" font-family="DejaVu Sans, sans-serif" font-size="9.5" text-anchor="middle" fill="#000" font-weight="normal" letter-spacing="0.6" filter="url(#crisp2)">Jun</text>
<text x="479" y="1264.7" font-family="DejaVu Sans, sans-serif" font-size="9.5" text-anchor="middle" fill="#000" font-weight="normal" letter-spacing="0.6" filter="url(#crisp2)">Jul</text>
<text x="507" y="1264.7" font-family="DejaVu Sans, sans-serif" font-size="9.5" text-anchor="middle" fill="#000" font-weight="normal" letter-spacing="0.6" filter="url(#crisp2)">Aug</text>
<text x="538" y="1264.7" font-family="DejaVu Sans, sans-serif" font-size="9.5" text-anchor="middle" fill="#000" font-weight="normal" letter-spacing="0.6" filter="url(#crisp2)">Sep</text>
<text x="567" y="1264.7" font-family="DejaVu Sans, sans-serif" font-size="9.5" text-anchor="middle" fill="#000" font-weight="normal" letter-spacing="0.6" filter="url(#crisp2)">Oct</text>
<text x="595" y="1264.7" font-family="DejaVu Sans, sans-serif" font-size="9.5" text-anchor="middle" fill="#000" font-weight="normal" letter-spacing="0.6" filter="url(#crisp2)">Nov</text>
<text x="626" y="1264.7" font-family="DejaVu Sans, sans-serif" font-size="9.5" text-anchor="middle" fill="#000" font-weight="normal" letter-spacing="0.6" filter="url(#crisp2)">Dec</text>
<text x="653" y="1264.7" font-family="Liberation Sans, sans-serif" font-size="11" text-anchor="middle" fill="#000" font-weight="bold"  filter="url(#crisp)">2024</text>
<text x="684" y="1264.7" font-family="DejaVu Sans, sans-serif" font-size="9.5" text-anchor="middle" fill="#000" font-weight="normal" letter-spacing="0.6" filter="url(#crisp2)">Feb</text>
<text x="713" y="1264.7" font-family="DejaVu Sans, sans-serif" font-size="9.5" text-anchor="middle" fill="#000" font-weight="normal" letter-spacing="0.6" filter="url(#crisp2)">Mar</text>
<text x="740" y="1264.7" font-family="DejaVu Sans, sans-serif" font-size="9.5" text-anchor="middle" fill="#000" font-weight="normal" letter-spacing="0.6" filter="url(#crisp2)">Apr</text>
<text x="769" y="1264.7" font-family="DejaVu Sans, sans-serif" font-size="9.5" text-anchor="middle" fill="#000" font-weight="normal" letter-spacing="0.6" filter="url(#crisp2)">May</text>
<text x="800" y="1264.7" font-family="DejaVu Sans, sans-serif" font-size="9.5" text-anchor="middle" fill="#000" font-weight="normal" letter-spacing="0.6" filter="url(#crisp2)">Jun</text>
<text x="827" y="1264.7" font-family="DejaVu Sans, sans-serif" font-size="9.5" text-anchor="middle" fill="#000" font-weight="normal" letter-spacing="0.6" filter="url(#crisp2)">Jul</text>
<text x="857" y="1264.7" font-family="DejaVu Sans, sans-serif" font-size="9.5" text-anchor="middle" fill="#000" font-weight="normal" letter-spacing="0.6" filter="url(#crisp2)">Aug</text>
<text x="888" y="1264.7" font-family="DejaVu Sans, sans-serif" font-size="9.5" text-anchor="middle" fill="#000" font-weight="normal" letter-spacing="0.6" filter="url(#crisp2)">Sep</text>
<text x="916" y="1264.7" font-family="DejaVu Sans, sans-serif" font-size="9.5" text-anchor="middle" fill="#000" font-weight="normal" letter-spacing="0.6" filter="url(#crisp2)">Oct</text>
<text x="1000.8" y="1264" font-family="Liberation Sans, sans-serif" font-size="10.2" fill="#000" font-weight="normal" text-rendering="geometricPrecision" filter="url(#crisp)">8</text>
<text x="1022.8 1028.8" y="1264" font-family="Liberation Sans, sans-serif" font-size="10.2" fill="#000" font-weight="normal" text-rendering="geometricPrecision" filter="url(#crisp)">15</text>
<text x="1046.8 1052.8" y="1264" font-family="Liberation Sans, sans-serif" font-size="10.2" fill="#000" font-weight="normal" text-rendering="geometricPrecision" filter="url(#crisp)">22</text>
<text x="1071.8 1077.8" y="1264" font-family="Liberation Sans, sans-serif" font-size="10.2" fill="#000" font-weight="normal" text-rendering="geometricPrecision" filter="url(#crisp)">29</text>
<path d="M940.5 49.5h2.5M940.5 75.5h2.5M940.5 102.5h2.5M940.5 128.5h2.5M940.5 154.5h2.5" stroke="#bcbcbc" stroke-width="1" fill="none" shape-rendering="crispEdges"/>
<path d="M940.5 36.5h1.5M940.5 42.5h1.5M940.5 49.5h1.5M940.5 55.5h1.5M940.5 62.5h1.5M940.5 69.5h1.5M940.5 75.5h1.5M940.5 82.5h1.5M940.5 88.5h1.5M940.5 95.5h1.5M940.5 102.5h1.5M940.5 108.5h1.5M940.5 115.5h1.5M940.5 121.5h1.5M940.5 128.5h1.5M940.5 134.5h1.5M940.5 141.5h1.5M940.5 148.5h1.5M940.5 154.5h1.5M940.5 161.5h1.5M940.5 167.5h1.5" stroke="#bcbcbc" stroke-width="1" fill="none" shape-rendering="crispEdges"/>
<path d="M1090.5 49.5h2.5M1090.5 75.5h2.5M1090.5 102.5h2.5M1090.5 128.5h2.5M1090.5 154.5h2.5" stroke="#bcbcbc" stroke-width="1" fill="none" shape-rendering="crispEdges"/>
<path d="M1090.5 36.5h1.5M1090.5 42.5h1.5M1090.5 49.5h1.5M1090.5 55.5h1.5M1090.5 62.5h1.5M1090.5 69.5h1.5M1090.5 75.5h1.5M1090.5 82.5h1.5M1090.5 88.5h1.5M1090.5 95.5h1.5M1090.5 102.5h1.5M1090.5 108.5h1.5M1090.5 115.5h1.5M1090.5 121.5h1.5M1090.5 128.5h1.5M1090.5 134.5h1.5M1090.5 141.5h1.5M1090.5 148.5h1.5M1090.5 154.5h1.5M1090.5 161.5h1.5M1090.5 167.5h1.5" stroke="#bcbcbc" stroke-width="1" fill="none" shape-rendering="crispEdges"/>
<path d="M940.5 178.5h2.5M940.5 194.5h2.5M940.5 210.5h2.5M940.5 225.5h2.5M940.5 241.5h2.5M940.5 257.5h2.5M940.5 273.5h2.5M940.5 289.5h2.5M940.5 305.5h2.5M940.5 321.5h2.5M940.5 337.5h2.5M940.5 352.5h2.5M940.5 368.5h2.5M940.5 384.5h2.5M940.5 400.5h2.5M940.5 416.5h2.5M940.5 432.5h2.5M940.5 448.5h2.5M940.5 464.5h2.5M940.5 480.5h2.5M940.5 495.5h2.5M940.5 511.5h2.5M940.5 527.5h2.5M940.5 543.5h2.5M940.5 559.5h2.5M940.5 575.5h2.5" stroke="#bcbcbc" stroke-width="1" fill="none" shape-rendering="crispEdges"/>
<path d="M940.5 178.5h1.5M940.5 181.5h1.5M940.5 184.5h1.5M940.5 187.5h1.5M940.5 191.5h1.5M940.5 194.5h1.5M940.5 197.5h1.5M940.5 200.5h1.5M940.5 203.5h1.5M940.5 206.5h1.5M940.5 210.5h1.5M940.5 213.5h1.5M940.5 216.5h1.5M940.5 219.5h1.5M940.5 222.5h1.5M940.5 225.5h1.5M940.5 229.5h1.5M940.5 232.5h1.5M940.5 235.5h1.5M940.5 238.5h1.5M940.5 241.5h1.5M940.5 244.5h1.5M940.5 248.5h1.5M940.5 251.5h1.5M940.5 254.5h1.5M940.5 257.5h1.5M940.5 260.5h1.5M940.5 264.5h1.5M940.5 267.5h1.5M940.5 270.5h1.5M940.5 273.5h1.5M940.5 276.5h1.5M940.5 279.5h1.5M940.5 283.5h1.5M940.5 286.5h1.5M940.5 289.5h1.5M940.5 292.5h1.5M940.5 295.5h1.5M940.5 298.5h1.5M940.5 302.5h1.5M940.5 305.5h1.5M940.5 308.5h1.5M940.5 311.5h1.5M940.5 314.5h1.5M940.5 318.5h1.5M940.5 321.5h1.5M940.5 324.5h1.5M940.5 327.5h1.5M940.5 330.5h1.5M940.5 333.5h1.5M940.5 337.5h1.5M940.5 340.5h1.5M940.5 343.5h1.5M940.5 346.5h1.5M940.5 349.5h1.5M940.5 352.5h1.5M940.5 356.5h1.5M940.5 359.5h1.5M940.5 362.5h1.5M940.5 365.5h1.5M940.5 368.5h1.5M940.5 372.5h1.5M940.5 375.5h1.5M940.5 378.5h1.5M940.5 381.5h1.5M940.5 384.5h1.5M940.5 387.5h1.5M940.5 391.5h1.5M940.5 394.5h1.5M940.5 397.5h1.5M940.5 400.5h1.5M940.5 403.5h1.5M940.5 406.5h1.5M940.5 410.5h1.5M940.5 413.5h1.5M940.5 416.5h1.5M940.5 419.5h1.5M940.5 422.5h1.5M940.5 426.5h1.5M940.5 429.5h1.5M940.5 432.5h1.5M940.5 435.5h1.5M940.5 438.5h1.5M940.5 441.5h1.5M940.5 445.5h1.5M940.5 448.5h1.5M940.5 451.5h1.5M940.5 454.5h1.5M940.5 457.5h1.5M940.5 460.5h1.5M940.5 464.5h1.5M940.5 467.5h1.5M940.5 470.5h1.5M940.5 473.5h1.5M940.5 476.5h1.5M940.5 480.5h1.5M940.5 483.5h1.5M940.5 486.5h1.5M940.5 489.5h1.5M940.5 492.5h1.5M940.5 495.5h1.5M940.5 499.5h1.5M940.5 502.5h1.5M940.5 505.5h1.5M940.5 508.5h1.5M940.5 511.5h1.5M940.5 514.5h1.5M940.5 518.5h1.5M940.5 521.5h1.5M940.5 524.5h1.5M940.5 527.5h1.5M940.5 530.5h1.5M940.5 534.5h1.5M940.5 537.5h1.5M940.5 540.5h1.5M940.5 543.5h1.5M940.5 546.5h1.5M940.5 549.5h1.5M940.5 553.5h1.5M940.5 556.5h1.5M940.5 559.5h1.5M940.5 562.5h1.5M940.5 565.5h1.5M940.5 568.5h1.5M940.5 572.5h1.5M940.5 575.5h1.5M940.5 578.5h1.5M940.5 581.5h1.5M940.5 584.5h1.5M940.5 588.5h1.5" stroke="#bcbcbc" stroke-width="1" fill="none" shape-rendering="crispEdges"/>
<path d="M1090.5 177.5h2.5M1090.5 195.5h2.5M1090.5 213.5h2.5M1090.5 231.5h2.5M1090.5 249.5h2.5M1090.5 267.5h2.5M1090.5 286.5h2.5M1090.5 304.5h2.5M1090.5 322.5h2.5M1090.5 340.5h2.5M1090.5 358.5h2.5M1090.5 376.5h2.5M1090.5 394.5h2.5M1090.5 412.5h2.5M1090.5 431.5h2.5M1090.5 449.5h2.5M1090.5 467.5h2.5M1090.5 485.5h2.5M1090.5 503.5h2.5M1090.5 521.5h2.5M1090.5 539.5h2.5M1090.5 557.5h2.5M1090.5 576.5h2.5" stroke="#bcbcbc" stroke-width="1" fill="none" shape-rendering="crispEdges"/>
<path d="M1090.5 177.5h1.5M1090.5 180.5h1.5M1090.5 184.5h1.5M1090.5 188.5h1.5M1090.5 191.5h1.5M1090.5 195.5h1.5M1090.5 199.5h1.5M1090.5 202.5h1.5M1090.5 206.5h1.5M1090.5 209.5h1.5M1090.5 213.5h1.5M1090.5 217.5h1.5M1090.5 220.5h1.5M1090.5 224.5h1.5M1090.5 228.5h1.5M1090.5 231.5h1.5M1090.5 235.5h1.5M1090.5 238.5h1.5M1090.5 242.5h1.5M1090.5 246.5h1.5M1090.5 249.5h1.5M1090.5 253.5h1.5M1090.5 257.5h1.5M1090.5 260.5h1.5M1090.5 264.5h1.5M1090.5 267.5h1.5M1090.5 271.5h1.5M1090.5 275.5h1.5M1090.5 278.5h1.5M1090.5 282.5h1.5M1090.5 286.5h1.5M1090.5 289.5h1.5M1090.5 293.5h1.5M1090.5 296.5h1.5M1090.5 300.5h1.5M1090.5 304.5h1.5M1090.5 307.5h1.5M1090.5 311.5h1.5M1090.5 315.5h1.5M1090.5 318.5h1.5M1090.5 322.5h1.5M1090.5 325.5h1.5M1090.5 329.5h1.5M1090.5 333.5h1.5M1090.5 336.5h1.5M1090.5 340.5h1.5M1090.5 344.5h1.5M1090.5 347.5h1.5M1090.5 351.5h1.5M1090.5 354.5h1.5M1090.5 358.5h1.5M1090.5 362.5h1.5M1090.5 365.5h1.5M1090.5 369.5h1.5M1090.5 373.5h1.5M1090.5 376.5h1.5M1090.5 380.5h1.5M1090.5 383.5h1.5M1090.5 387.5h1.5M1090.5 391.5h1.5M1090.5 394.5h1.5M1090.5 398.5h1.5M1090.5 402.5h1.5M1090.5 405.5h1.5M1090.5 409.5h1.5M1090.5 412.5h1.5M1090.5 416.5h1.5M1090.5 420.5h1.5M1090.5 423.5h1.5M1090.5 427.5h1.5M1090.5 431.5h1.5M1090.5 434.5h1.5M1090.5 438.5h1.5M1090.5 441.5h1.5M1090.5 445.5h1.5M1090.5 449.5h1.5M1090.5 452.5h1.5M1090.5 456.5h1.5M1090.5 460.5h1.5M1090.5 463.5h1.5M1090.5 467.5h1.5M1090.5 470.5h1.5M1090.5 474.5h1.5M1090.5 478.5h1.5M1090.5 481.5h1.5M1090.5 485.5h1.5M1090.5 489.5h1.5M1090.5 492.5h1.5M1090.5 496.5h1.5M1090.5 499.5h1.5M1090.5 503.5h1.5M1090.5 507.5h1.5M1090.5 510.5h1.5M1090.5 514.5h1.5M1090.5 518.5h1.5M1090.5 521.5h1.5M1090.5 525.5h1.5M1090.5 528.5h1.5M1090.5 532.5h1.5M1090.5 536.5h1.5M1090.5 539.5h1.5M1090.5 543.5h1.5M1090.5 547.5h1.5M1090.5 550.5h1.5M1090.5 554.5h1.5M1090.5 557.5h1.5M1090.5 561.5h1.5M1090.5 565.5h1.5M1090.5 568.5h1.5M1090.5 572.5h1.5M1090.5 576.5h1.5M1090.5 579.5h1.5M1090.5 583.5h1.5M1090.5 586.5h1.5" stroke="#bcbcbc" stroke-width="1" fill="none" shape-rendering="crispEdges"/>
<path d="M940.5 596.5h2.5M940.5 614.5h2.5M940.5 633.5h2.5M940.5 652.5h2.5M940.5 670.5h2.5M940.5 689.5h2.5M940.5 708.5h2.5M940.5 726.5h2.5M940.5 745.5h2.5M940.5 764.5h2.5M940.5 782.5h2.5M940.5 801.5h2.5M940.5 819.5h2.5M940.5 838.5h2.5M940.5 857.5h2.5M940.5 875.5h2.5M940.5 894.5h2.5M940.5 913.5h2.5M940.5 931.5h2.5M940.5 950.5h2.5M940.5 969.5h2.5M940.5 987.5h2.5M940.5 1006.5h2.5" stroke="#bcbcbc" stroke-width="1" fill="none" shape-rendering="crispEdges"/>
<path d="M1090.5 599.5h2.5M1090.5 614.5h2.5M1090.5 630.5h2.5M1090.5 645.5h2.5M1090.5 661.5h2.5M1090.5 676.5h2.5M1090.5 692.5h2.5M1090.5 707.5h2.5M1090.5 723.5h2.5M1090.5 739.5h2.5M1090.5 754.5h2.5M1090.5 770.5h2.5M1090.5 785.5h2.5M1090.5 801.5h2.5M1090.5 816.5h2.5M1090.5 832.5h2.5M1090.5 847.5h2.5M1090.5 863.5h2.5M1090.5 879.5h2.5M1090.5 894.5h2.5M1090.5 910.5h2.5M1090.5 925.5h2.5M1090.5 941.5h2.5M1090.5 956.5h2.5M1090.5 972.5h2.5M1090.5 988.5h2.5M1090.5 1003.5h2.5" stroke="#bcbcbc" stroke-width="1" fill="none" shape-rendering="crispEdges"/>
<path d="M940.5 1035.5h2.5M940.5 1052.5h2.5M940.5 1070.5h2.5M940.5 1088.5h2.5M940.5 1105.5h2.5M940.5 1123.5h2.5M940.5 1140.5h2.5M940.5 1158.5h2.5" stroke="#bcbcbc" stroke-width="1" fill="none" shape-rendering="crispEdges"/>
<path d="M1090.5 1045.5h2.5M1090.5 1063.5h2.5M1090.5 1082.5h2.5M1090.5 1100.5h2.5M1090.5 1119.5h2.5M1090.5 1137.5h2.5M1090.5 1156.5h2.5" stroke="#bcbcbc" stroke-width="1" fill="none" shape-rendering="crispEdges"/>
<path d="M1090.5 1026.5h1.5M1090.5 1029.5h1.5M1090.5 1033.5h1.5M1090.5 1037.5h1.5M1090.5 1040.5h1.5M1090.5 1044.5h1.5M1090.5 1048.5h1.5M1090.5 1051.5h1.5M1090.5 1055.5h1.5M1090.5 1059.5h1.5M1090.5 1063.5h1.5M1090.5 1066.5h1.5M1090.5 1070.5h1.5M1090.5 1074.5h1.5M1090.5 1077.5h1.5M1090.5 1081.5h1.5M1090.5 1085.5h1.5M1090.5 1088.5h1.5M1090.5 1092.5h1.5M1090.5 1096.5h1.5M1090.5 1100.5h1.5M1090.5 1103.5h1.5M1090.5 1107.5h1.5M1090.5 1111.5h1.5M1090.5 1114.5h1.5M1090.5 1118.5h1.5M1090.5 1122.5h1.5M1090.5 1125.5h1.5M1090.5 1129.5h1.5M1090.5 1133.5h1.5M1090.5 1137.5h1.5M1090.5 1140.5h1.5M1090.5 1144.5h1.5M1090.5 1148.5h1.5M1090.5 1151.5h1.5M1090.5 1155.5h1.5M1090.5 1159.5h1.5M1090.5 1162.5h1.5M1090.5 1166.5h1.5" stroke="#bcbcbc" stroke-width="1" fill="none" shape-rendering="crispEdges"/>
<path d="M940.5 1182.5h2.5M940.5 1196.5h2.5M940.5 1210.5h2.5M940.5 1224.5h2.5M940.5 1239.5h2.5" stroke="#bcbcbc" stroke-width="1" fill="none" shape-rendering="crispEdges"/>
<path d="M1090.5 1182.5h2.5M1090.5 1206.5h2.5M1090.5 1229.5h2.5M1090.5 1251.5h2.5" stroke="#bcbcbc" stroke-width="1" fill="none" shape-rendering="crispEdges"/>
<path d="M1090.5 1172.5h1.5M1090.5 1174.5h1.5M1090.5 1177.5h1.5M1090.5 1180.5h1.5M1090.5 1183.5h1.5M1090.5 1186.5h1.5M1090.5 1189.5h1.5M1090.5 1191.5h1.5M1090.5 1194.5h1.5M1090.5 1197.5h1.5M1090.5 1200.5h1.5M1090.5 1203.5h1.5M1090.5 1206.5h1.5M1090.5 1209.5h1.5M1090.5 1211.5h1.5M1090.5 1214.5h1.5M1090.5 1217.5h1.5M1090.5 1220.5h1.5M1090.5 1223.5h1.5M1090.5 1226.5h1.5M1090.5 1228.5h1.5M1090.5 1231.5h1.5M1090.5 1234.5h1.5M1090.5 1237.5h1.5M1090.5 1240.5h1.5M1090.5 1243.5h1.5M1090.5 1246.5h1.5M1090.5 1248.5h1.5M1090.5 1251.5h1.5" stroke="#bcbcbc" stroke-width="1" fill="none" shape-rendering="crispEdges"/>
<path d="M43.5 1010.5v3M71.5 1010.5v3M101.5 1010.5v3M129.5 1010.5v3M158.5 1010.5v3M189.5 1010.5v3M219.5 1010.5v3M246.5 1010.5v3M277.5 1010.5v3M304.5 1010.5v3M335.5 1010.5v3M362.5 1010.5v3M392.5 1010.5v3M419.5 1010.5v3M451.5 1010.5v3M479.5 1010.5v3M507.5 1010.5v3M538.5 1010.5v3M567.5 1010.5v3M595.5 1010.5v3M626.5 1010.5v3M653.5 1010.5v3M684.5 1010.5v3M713.5 1010.5v3M740.5 1010.5v3M769.5 1010.5v3M800.5 1010.5v3M827.5 1010.5v3M857.5 1010.5v3M888.5 1010.5v3M916.5 1010.5v3M998.5 1010.5v1.5M1003.5 1010.5v3M1008.5 1010.5v1.5M1013.5 1010.5v1.5M1018.5 1010.5v1.5M1023.5 1010.5v1.5M1028.5 1010.5v3M1033.5 1010.5v1.5M1038.5 1010.5v1.5M1043.5 1010.5v1.5M1048.5 1010.5v1.5M1053.5 1010.5v3M1058.5 1010.5v1.5M1063.5 1010.5v1.5M1068.5 1010.5v1.5M1073.5 1010.5v1.5M1078.5 1010.5v3M1083.5 1010.5v1.5" stroke="#bcbcbc" stroke-width="1" fill="none" shape-rendering="crispEdges"/>
<path d="M43.5 1254.5v3M71.5 1254.5v3M101.5 1254.5v3M129.5 1254.5v3M158.5 1254.5v3M189.5 1254.5v3M219.5 1254.5v3M246.5 1254.5v3M277.5 1254.5v3M304.5 1254.5v3M335.5 1254.5v3M362.5 1254.5v3M392.5 1254.5v3M419.5 1254.5v3M451.5 1254.5v3M479.5 1254.5v3M507.5 1254.5v3M538.5 1254.5v3M567.5 1254.5v3M595.5 1254.5v3M626.5 1254.5v3M653.5 1254.5v3M684.5 1254.5v3M713.5 1254.5v3M740.5 1254.5v3M769.5 1254.5v3M800.5 1254.5v3M827.5 1254.5v3M857.5 1254.5v3M888.5 1254.5v3M916.5 1254.5v3M998.5 1254.5v1.5M1003.5 1254.5v3M1008.5 1254.5v1.5M1013.5 1254.5v1.5M1018.5 1254.5v1.5M1023.5 1254.5v1.5M1028.5 1254.5v3M1033.5 1254.5v1.5M1038.5 1254.5v1.5M1043.5 1254.5v1.5M1048.5 1254.5v1.5M1053.5 1254.5v3M1058.5 1254.5v1.5M1063.5 1254.5v1.5M1068.5 1254.5v1.5M1073.5 1254.5v1.5M1078.5 1254.5v3M1083.5 1254.5v1.5" stroke="#bcbcbc" stroke-width="1" fill="none" shape-rendering="crispEdges"/>
<text x="456.7" y="117.5" font-family="Liberation Sans, sans-serif" font-size="15.2" text-anchor="start" fill="#0000f0" font-weight="bold"  textLength="140.5" lengthAdjust="spacingAndGlyphs" filter="url(#crisp)">Prepared by Breeze</text>
<text x="483.7" y="271.7" font-family="Liberation Sans, sans-serif" font-size="16.8" text-anchor="start" fill="#0000f0" font-weight="bold"  textLength="34.3" lengthAdjust="spacingAndGlyphs" filter="url(#crisp)">Dow</text>
<text x="447.8" y="618.7" font-family="Liberation Sans, sans-serif" font-size="14" text-anchor="start" fill="#0000f0" font-weight="bold"  textLength="155.5" lengthAdjust="spacingAndGlyphs" filter="url(#crisp)">CLX 3, 10 and 30 DMAs</text>
<text x="226.7" y="1053.7" font-family="Liberation Sans, sans-serif" font-size="13.8" text-anchor="start" fill="#0000f0" font-weight="bold"  textLength="129" lengthAdjust="spacingAndGlyphs" filter="url(#crisp)">AAIIBULL-AAIIBEAR</text>
<text x="226.7" y="1069.7" font-family="Liberation Sans, sans-serif" font-size="14" text-anchor="start" fill="#0000f0" font-weight="bold"  textLength="70.5" lengthAdjust="spacingAndGlyphs" filter="url(#crisp)">Sentiment</text>
<g shape-rendering="crispEdges">
<line x1="19" y1="192" x2="28" y2="192" stroke="#000080" stroke-width="2" />
<line x1="19" y1="599" x2="28" y2="599" stroke="#8a9a9a" stroke-width="2" />
<line x1="19" y1="610" x2="28" y2="610" stroke="#000080" stroke-width="2" />
<line x1="19" y1="621" x2="28" y2="621" stroke="#006000" stroke-width="2" />
<line x1="19" y1="632" x2="28" y2="632" stroke="#c00030" stroke-width="2" />
<line x1="19" y1="1031" x2="28" y2="1031" stroke="#000" stroke-width="3" />
<line x1="19" y1="1177" x2="28" y2="1177" stroke="#000" stroke-width="3" />
</g>
<text x="31.8" y="38.8" font-family="DejaVu Sans, sans-serif" font-size="9.3" text-anchor="start" fill="#000" font-weight="normal"  textLength="78.5" lengthAdjust="spacing" filter="url(#crisp2)">RSI(14) 54.38</text>
<text x="31.9" y="184.8" font-family="DejaVu Sans, sans-serif" font-size="9.3" text-anchor="start" fill="#000" font-weight="normal"  textLength="91" lengthAdjust="spacing" filter="url(#crisp2)">$INDU 40743.33</text>
<text x="29.8" y="196" font-family="DejaVu Sans, sans-serif" font-size="9.4" text-anchor="start" fill="#000080" font-weight="normal"  textLength="212" lengthAdjust="spacingAndGlyphs" filter="url(#crisp2)">KELT(55,4.0,110) 38111.62 - 39551.41 - 40991.19</text>
<text x="31.3" y="602.8" font-family="DejaVu Sans, sans-serif" font-size="9.3" text-anchor="start" fill="#000" font-weight="normal"  textLength="128" lengthAdjust="spacing" filter="url(#crisp2)">@MYINDEX (Daily) 9.00</text>
<text x="29.8" y="613.8" font-family="DejaVu Sans, sans-serif" font-size="9.4" text-anchor="start" fill="#000080" font-weight="normal"  textLength="48.6" lengthAdjust="spacingAndGlyphs" filter="url(#crisp2)">MA(3) 6.33</text>
<text x="29.8" y="624.7" font-family="DejaVu Sans, sans-serif" font-size="9.4" text-anchor="start" fill="#006000" font-weight="normal"  textLength="53.6" lengthAdjust="spacingAndGlyphs" filter="url(#crisp2)">MA(10) 0.20</text>
<text x="29.8" y="635.8" font-family="DejaVu Sans, sans-serif" font-size="9.4" text-anchor="start" fill="#c00030" font-weight="normal"  textLength="53.6" lengthAdjust="spacingAndGlyphs" filter="url(#crisp2)">MA(30) 3.70</text>
<text x="32.5" y="1034.8" font-family="DejaVu Sans, sans-serif" font-size="9.3" text-anchor="start" fill="#000" font-weight="normal"  textLength="149.7" lengthAdjust="spacing" filter="url(#crisp2)">!AAIIBULL-!AAIIBEAR 11.50</text>
<text x="31.7" y="1180.6" font-family="DejaVu Sans, sans-serif" font-size="9.3" text-anchor="start" fill="#000" font-weight="normal"  textLength="60.8" lengthAdjust="spacing" filter="url(#crisp2)">$VIX 17.69</text>
<polygon points="19.5,38.5 19.5,36.5 21.5,32.5 23.5,30 25.5,36.5 27.5,32.5 27.5,38.5" fill="#7da47d"/>
<polyline points="19.5,38.5 19.5,36.5 21.5,32.5 23.5,30 25.5,36.5 27.5,32.5 27.5,38.5" fill="none" stroke="#000" stroke-width="1.2"/>
<path d="M20.5 177v6M19 178.5h1.5M20.5 181.5h1.5M23.5 180v6M22 184.5h3M26.5 177v6.5M25 182.5h1.5M26.5 180.5h1.5" stroke="#000" stroke-width="1" fill="none" shape-rendering="crispEdges"/>
<defs><clipPath id="c0m"><rect x="16.5" y="28.5" width="924.0" height="146.0"/></clipPath><clipPath id="c0s"><rect x="995.5" y="28.5" width="95.0" height="146.0"/></clipPath><clipPath id="c1m"><rect x="16.5" y="174.5" width="924.0" height="418.0"/></clipPath><clipPath id="c1s"><rect x="995.5" y="174.5" width="95.0" height="418.0"/></clipPath><clipPath id="c2m"><rect x="16.5" y="592.5" width="924.0" height="418.0"/></clipPath><clipPath id="c2s"><rect x="995.5" y="592.5" width="95.0" height="418.0"/></clipPath><clipPath id="c3m"><rect x="16.5" y="1024.5" width="924.0" height="146.0"/></clipPath><clipPath id="c3s"><rect x="995.5" y="1024.5" width="95.0" height="146.0"/></clipPath><clipPath id="c4m"><rect x="16.5" y="1170.5" width="924.0" height="84.0"/></clipPath><clipPath id="c4s"><rect x="995.5" y="1170.5" width="95.0" height="84.0"/></clipPath></defs>
<g clip-path="url(#c1m)">
<polyline points="17.0,334.7 25.4,345.3 35.3,344.1 40.2,341.5 47.9,340.8 59.1,341.3 62.2,339.4 68.9,342.2 72.5,345.7 76.7,346.7 83.0,355.8 91.4,367.7 95.6,372.2 108.2,374.7 115.7,388.7 122.6,397.3 131.2,406.0 139.9,412.9 146.0,416.9 152.9,416.9 160.7,413.8 169.3,408.6 176.3,399.1 183.2,396.5 191.9,401.6 200.2,406.0 205.4,411.2 210.6,419.8 217.5,432.8 222.7,439.8 227.0,445.5 231.4,448.1 236.2,449.3 240.0,446.7 247.0,438.9 253.9,430.2 260.8,419.0 267.7,408.6 274.7,397.3 279.9,391.3 285.1,386.9 289.4,383.5 290.0,383.4 293.7,383.7 296.3,382.4 310.0,382.4 312.6,380.5 315.3,379.2 317.6,376.5 321.6,376.0 323.7,376.3 327.9,374.5 333.2,372.6 336.3,370.0 340.5,368.6 344.7,366.8 348.4,365.5 352.1,365.5 355.8,366.5 358.4,368.6 361.6,371.4 364.7,372.4 367.9,372.8 371.1,376.3 374.2,379.5 377.9,382.6 381.6,384.7 385.8,388.2 391.1,388.4 395.3,386.8 400.0,386.3 403.7,384.0 414.6,380.2 421.6,377.3 430.2,377.3 438.9,378.8 444.1,381.6 449.3,382.3 457.9,381.1 464.9,377.1 473.5,376.4 482.2,373.6 490.8,371.6 497.8,366.4 504.7,359.4 511.6,353.4 518.6,348.2 522.9,347.0 530.7,349.1 539.3,348.2 548.0,349.9 553.2,349.6 558.4,351.6 563.6,355.6 565.0,356.4 570.2,361.6 575.4,364.2 582.3,366.4 587.5,371.1 592.7,375.1 596.2,376.3 604.8,375.1 610.0,371.6 615.2,366.8 620.0,363.1 625.2,357.1 630.4,350.1 637.3,338.9 644.2,327.6 651.2,319.0 658.1,311.2 665.0,302.5 672.0,293.0 678.9,284.3 685.8,275.7 692.7,267.0 697.9,263.5 704.9,259.2 711.8,252.3 718.7,246.2 723.9,242.7 729.1,239.3 734.3,234.1 739.5,229.8 744.7,227.2 749.9,226.3 753.4,227.5 758.6,230.3 765.5,231.5 770.7,232.4 775.9,230.6 781.1,226.3 786.3,221.6 791.2,218.4 794.7,218.4 797.5,219.4 803.9,219.4 810.2,219.4 813.0,220.5 816.5,219.8 822.1,218.0 827.7,216.6 833.3,215.2 836.1,214.2 838.9,212.1 841.8,207.2 844.6,203.7 848.1,200.9 851.6,197.4 855.8,194.3" fill="none" stroke="#00008b" stroke-width="1.15" stroke-linejoin="round"/>
<polyline points="16.9,448.4 21.3,456.2 27.3,462.3 34.2,460.5 42.9,456.2 55.0,457.1 62.0,456.2 68.9,463.1 75.8,471.8 82.7,483.9 87.9,492.6 93.1,502.1 100.1,505.1 108.7,507.3 112.2,515.1 117.4,527.2 122.6,534.1 131.2,542.8 139.9,548.9 146.0,553.2 153.8,551.5 162.4,545.4 169.3,537.6 176.3,528.1 182.3,524.6 188.4,529.0 193.6,532.8 198.5,533.8 203.7,539.3 208.9,546.3 214.1,558.4 219.2,567.1 224.4,575.7 229.6,582.6 232.2,585.2 238.3,585.2 242.6,581.8 247.0,575.7 253.9,567.9 260.8,556.7 267.7,544.5 272.9,536.7 278.1,529.8 283.3,524.6 288.5,521.2 293.7,520.3 302.4,518.6 310.2,517.2 314.5,513.4 318.8,509.9 326.6,508.5 333.6,503.8 342.2,498.1 347.4,495.7 351.7,494.3 356.1,495.7 361.3,498.1 367.3,499.2 371.7,503.0 376.9,509.0 381.2,512.5 385.2,515.0 389.5,515.3 395.6,511.5 399.1,510.1 406.0,504.1 412.9,498.9 418.1,495.9 425.0,495.4 430.2,494.2 438.9,493.2 444.1,494.5 450.1,495.4 454.5,494.2 461.4,489.3 468.3,485.0 475.3,482.4 482.2,478.6 486.5,478.1 492.6,473.8 499.5,465.1 504.7,458.2 509.9,453.0 516.8,448.6 522.0,446.9 527.2,446.9 531.5,448.1 535.9,446.9 544.5,445.7 553.2,444.3 558.4,445.2 563.6,448.6 565.0,450.8 571.9,457.2 578.9,459.9 584.1,462.9 591.0,468.1 596.2,471.5 603.1,469.0 610.0,463.8 617.0,457.7 623.9,450.8 629.1,443.0 634.3,435.2 639.5,424.8 644.7,414.4 651.6,404.0 658.5,394.5 662.4,390.0 668.5,383.9 675.4,374.4 682.4,364.8 689.3,355.3 694.5,350.1 701.4,344.9 708.3,337.1 715.3,331.9 720.5,328.5 727.4,323.3 734.3,316.4 739.5,312.4 743.0,311.7 748.2,311.7 753.4,314.6 758.6,318.1 765.5,319.0 771.5,322.1 775.9,319.3 781.1,314.6 785.4,309.4 789.7,305.4 792.6,305.4 796.1,305.4 798.9,307.3 805.3,307.5 810.2,307.8 813.7,308.7 817.2,308.2 822.1,306.4 827.0,305.4 829.1,303.6 833.3,302.6 836.1,301.6 839.6,298.8 842.5,295.6 845.3,292.8 848.8,289.6 851.6,289.3 853.7,287.6 855.8,285.4" fill="none" stroke="#00008b" stroke-width="1.15" stroke-linejoin="round"/>
<polyline points="16.9,391.8 27.3,402.5 36.0,401.6 44.6,398.2 62.0,398.2 70.6,404.2 79.3,412.0 87.9,425.9 96.6,438.0 103.5,439.8 108.7,440.6 115.7,454.5 122.6,464.9 131.2,474.4 139.9,482.2 146.0,485.3 153.8,483.1 162.4,477.9 169.3,471.8 176.3,464.0 183.2,461.1 191.9,466.6 200.2,470.9 205.4,478.7 212.3,490.0 219.2,501.2 226.2,509.9 232.2,515.1 235.7,516.8 240.0,514.2 247.0,506.4 253.9,497.8 260.8,486.5 267.7,476.1 274.7,466.6 281.6,457.9 288.5,452.4 293.7,451.0 302.4,451.4 309.3,449.3 316.2,444.1 323.2,441.0 330.1,438.0 337.0,434.6 344.0,431.6 349.1,430.2 354.3,431.1 361.3,433.7 368.2,436.3 375.1,443.2 380.3,447.5 386.1,451.2 390.4,451.2 399.1,447.8 407.7,442.6 414.6,440.0 421.6,437.0 430.2,435.7 438.9,436.0 444.1,438.2 449.3,439.1 457.9,436.5 464.9,433.1 473.5,429.6 482.2,427.0 490.8,422.7 497.8,416.6 504.7,408.8 511.6,402.7 518.6,398.4 522.9,396.7 530.7,398.4 539.3,397.2 548.0,397.9 553.2,397.5 558.4,399.3 563.6,402.7 565.0,404.0 571.9,408.3 578.9,412.7 585.8,417.9 592.7,422.5 597.0,423.6 606.6,420.8 613.5,415.3 620.4,409.2 627.4,401.4 639.1,379.6 644.2,370.9 651.2,361.4 658.1,351.9 665.0,344.1 672.0,339.7 678.9,331.1 685.8,320.7 692.7,312.0 697.9,306.8 704.9,299.9 711.8,292.1 718.7,287.8 723.9,285.2 729.1,281.7 734.3,275.7 739.5,271.3 744.7,270.1 749.9,270.8 755.1,273.1 760.3,274.8 765.5,275.7 770.7,276.0 775.9,273.9 781.1,269.6 786.3,264.4 792.6,262.4 796.8,263.3 802.5,263.3 808.1,263.8 813.0,263.3 817.9,263.8 822.1,262.4 827.7,260.5 833.3,259.1 837.5,257.0 841.8,252.1 844.6,249.3 848.8,245.8 852.3,243.0 855.8,239.5" fill="none" stroke="#2020a0" stroke-width="1.2" stroke-dasharray="2 2.5"/>
<path d="M17.5 429.0V457.0M16.0 446.5h1.5M17.5 433.5h1.5M19.5 431.1V456.6M18.0 434.5h1.5M19.5 443.5h1.5M20.5 433.5V454.0M19.0 436.5h1.5M20.5 437.5h1.5M22.5 433.6V454.2M21.0 437.5h1.5M22.5 439.5h1.5M23.5 433.1V453.1M22.0 444.5h1.5M23.5 441.5h1.5M24.5 428.5V451.3M23.0 446.5h1.5M24.5 436.5h1.5M26.5 424.1V446.6M25.0 431.5h1.5M26.5 441.5h1.5M27.5 412.6V438.8M26.0 428.5h1.5M27.5 423.5h1.5M29.5 400.3V424.5M28.0 403.5h1.5M29.5 406.5h1.5M30.5 392.0V409.6M29.0 398.5h1.5M30.5 401.5h1.5M31.5 389.6V405.9M30.0 401.5h1.5M31.5 400.5h1.5M33.5 389.0V405.1M32.0 397.5h1.5M33.5 401.5h1.5M34.5 387.5V403.6M33.0 401.5h1.5M34.5 390.5h1.5M36.5 387.2V401.6M35.0 390.5h1.5M36.5 394.5h1.5M37.5 384.0V398.3M36.0 394.5h1.5M37.5 391.5h1.5M39.5 379.1V397.3M38.0 391.5h1.5M39.5 389.5h1.5M40.5 376.8V397.5M39.0 392.5h1.5M40.5 394.5h1.5M41.5 374.6V398.3M40.0 378.5h1.5M41.5 390.5h1.5M43.5 378.7V400.8M42.0 395.5h1.5M43.5 385.5h1.5M44.5 383.2V402.3M43.0 385.5h1.5M44.5 392.5h1.5M46.5 384.2V405.1M45.0 387.5h1.5M46.5 399.5h1.5M47.5 386.2V408.5M46.0 395.5h1.5M47.5 403.5h1.5M49.5 387.6V408.4M48.0 398.5h1.5M49.5 404.5h1.5M50.5 387.3V409.5M49.0 394.5h1.5M50.5 396.5h1.5M51.5 391.9V410.8M50.0 408.5h1.5M51.5 396.5h1.5M53.5 394.4V411.1M52.0 399.5h1.5M53.5 402.5h1.5M54.5 392.7V409.3M53.0 394.5h1.5M54.5 399.5h1.5M56.5 391.9V406.6M55.0 404.5h1.5M56.5 401.5h1.5M57.5 390.0V405.0M56.0 399.5h1.5M57.5 392.5h1.5M58.5 387.6V404.4M57.0 401.5h1.5M58.5 400.5h1.5M60.5 380.1V400.3M59.0 383.5h1.5M60.5 392.5h1.5M61.5 369.1V393.9M60.0 375.5h1.5M61.5 374.5h1.5M63.5 384.8V422.9M62.0 388.5h1.5M63.5 393.5h1.5M64.5 400.8V435.1M63.0 404.5h1.5M64.5 428.5h1.5M66.5 411.4V438.9M65.0 419.5h1.5M66.5 421.5h1.5M67.5 414.1V439.9M66.0 434.5h1.5M67.5 437.5h1.5M68.5 416.0V443.2M67.0 420.5h1.5M68.5 420.5h1.5M70.5 425.2V453.5M69.0 446.5h1.5M70.5 431.5h1.5M71.5 435.0V463.4M70.0 449.5h1.5M71.5 441.5h1.5M73.5 422.2V454.9M72.0 439.5h1.5M73.5 451.5h1.5M74.5 414.5V450.6M73.0 425.5h1.5M74.5 428.5h1.5M76.5 429.1V457.0M75.0 443.5h1.5M76.5 449.5h1.5M77.5 445.1V467.3M76.0 461.5h1.5M77.5 464.5h1.5M78.5 451.6V477.0M77.0 470.5h1.5M78.5 469.5h1.5M80.5 458.3V483.6M79.0 468.5h1.5M80.5 461.5h1.5M81.5 461.4V494.3M80.0 471.5h1.5M81.5 482.5h1.5M83.5 464.1V499.3M82.0 494.5h1.5M83.5 495.5h1.5M84.5 469.1V489.2M83.0 474.5h1.5M84.5 474.5h1.5M85.5 464.9V486.8M84.0 478.5h1.5M85.5 482.5h1.5M87.5 462.8V494.0M86.0 482.5h1.5M87.5 485.5h1.5M88.5 481.6V508.8M87.0 504.5h1.5M88.5 501.5h1.5M90.5 492.1V521.4M89.0 499.5h1.5M90.5 513.5h1.5M91.5 486.5V510.0M90.0 507.5h1.5M91.5 496.5h1.5M93.5 478.4V499.5M92.0 492.5h1.5M93.5 483.5h1.5M94.5 465.2V488.3M93.0 484.5h1.5M94.5 482.5h1.5M95.5 456.6V481.6M94.0 478.5h1.5M95.5 472.5h1.5M97.5 447.2V468.0M96.0 451.5h1.5M97.5 449.5h1.5M98.5 440.6V460.1M97.0 450.5h1.5M98.5 457.5h1.5M100.5 441.7V461.3M99.0 456.5h1.5M100.5 446.5h1.5M101.5 440.6V461.1M100.0 446.5h1.5M101.5 452.5h1.5M103.5 440.8V459.9M102.0 444.5h1.5M103.5 456.5h1.5M104.5 440.6V458.2M103.0 450.5h1.5M104.5 455.5h1.5M105.5 441.5V460.2M104.0 450.5h1.5M105.5 451.5h1.5M107.5 440.3V464.2M106.0 451.5h1.5M107.5 446.5h1.5M108.5 444.3V470.7M107.0 450.5h1.5M108.5 456.5h1.5M110.5 469.2V493.6M109.0 478.5h1.5M110.5 481.5h1.5M111.5 492.1V519.7M110.0 497.5h1.5M111.5 507.5h1.5M112.5 509.6V532.7M111.0 526.5h1.5M112.5 521.5h1.5M114.5 512.9V538.7M113.0 534.5h1.5M114.5 524.5h1.5M115.5 525.9V549.2M114.0 537.5h1.5M115.5 541.5h1.5M117.5 534.2V552.5M116.0 543.5h1.5M117.5 549.5h1.5M118.5 530.4V548.7M117.0 546.5h1.5M118.5 536.5h1.5M120.5 521.5V540.9M119.0 536.5h1.5M120.5 525.5h1.5M121.5 520.4V537.6M120.0 523.5h1.5M121.5 525.5h1.5M122.5 515.6V532.9M121.0 528.5h1.5M122.5 529.5h1.5M124.5 494.7V517.1M123.0 508.5h1.5M124.5 499.5h1.5M125.5 486.4V508.5M124.0 492.5h1.5M125.5 505.5h1.5M127.5 491.3V508.0M126.0 506.5h1.5M127.5 504.5h1.5M128.5 504.8V515.6M127.0 510.5h1.5M128.5 508.5h1.5M130.5 508.1V524.8M129.0 519.5h1.5M130.5 510.5h1.5M131.5 510.0V529.4M130.0 512.5h1.5M131.5 517.5h1.5M132.5 511.7V531.3M131.0 514.5h1.5M132.5 529.5h1.5M134.5 506.5V526.6M133.0 510.5h1.5M134.5 512.5h1.5M135.5 499.9V517.4M134.0 505.5h1.5M135.5 503.5h1.5M137.5 497.2V511.4M136.0 507.5h1.5M137.5 501.5h1.5M138.5 498.4V511.5M137.0 505.5h1.5M138.5 507.5h1.5M139.5 499.8V516.4M138.0 510.5h1.5M139.5 507.5h1.5M141.5 507.8V530.0M140.0 521.5h1.5M141.5 524.5h1.5M142.5 509.5V535.5M141.0 513.5h1.5M142.5 530.5h1.5M144.5 495.7V518.3M143.0 507.5h1.5M144.5 514.5h1.5M145.5 488.2V506.3M144.0 497.5h1.5M145.5 493.5h1.5M147.5 483.6V498.8M146.0 485.5h1.5M147.5 487.5h1.5M148.5 479.2V496.6M147.0 491.5h1.5M148.5 484.5h1.5M149.5 474.3V493.8M148.0 481.5h1.5M149.5 476.5h1.5M151.5 474.0V490.7M150.0 485.5h1.5M151.5 483.5h1.5M152.5 476.6V489.7M151.0 487.5h1.5M152.5 478.5h1.5M154.5 475.1V488.1M153.0 481.5h1.5M154.5 485.5h1.5M155.5 468.2V484.7M154.0 478.5h1.5M155.5 482.5h1.5M156.5 459.7V477.3M155.0 471.5h1.5M156.5 470.5h1.5M158.5 450.0V465.6M157.0 452.5h1.5M158.5 453.5h1.5M159.5 451.8V466.0M158.0 456.5h1.5M159.5 455.5h1.5M161.5 452.7V466.3M160.0 463.5h1.5M161.5 461.5h1.5M162.5 452.1V464.0M161.0 456.5h1.5M162.5 457.5h1.5M164.5 453.3V462.5M163.0 456.5h1.5M164.5 461.5h1.5M165.5 446.4V459.5M164.0 450.5h1.5M165.5 457.5h1.5M166.5 440.6V454.0M165.0 441.5h1.5M166.5 446.5h1.5M168.5 435.7V445.1M167.0 438.5h1.5M168.5 440.5h1.5M169.5 430.0V437.6M168.0 431.5h1.5M169.5 433.5h1.5M171.5 422.2V435.5M170.0 426.5h1.5M171.5 425.5h1.5M172.5 414.3V430.6M171.0 425.5h1.5M172.5 424.5h1.5M174.5 408.2V421.7M173.0 413.5h1.5M174.5 413.5h1.5M175.5 411.0V422.7M174.0 418.5h1.5M175.5 418.5h1.5M176.5 417.3V429.0M175.0 426.5h1.5M176.5 424.5h1.5M178.5 423.0V443.3M177.0 427.5h1.5M178.5 433.5h1.5M179.5 434.5V450.7M178.0 446.5h1.5M179.5 446.5h1.5M181.5 441.6V453.1M180.0 449.5h1.5M181.5 449.5h1.5M182.5 437.2V452.3M181.0 440.5h1.5M182.5 443.5h1.5M183.5 449.0V465.3M182.0 457.5h1.5M183.5 458.5h1.5M185.5 460.2V478.8M184.0 469.5h1.5M185.5 462.5h1.5M186.5 471.0V491.5M185.0 481.5h1.5M186.5 481.5h1.5M188.5 475.4V498.1M187.0 491.5h1.5M188.5 482.5h1.5M189.5 479.8V501.4M188.0 494.5h1.5M189.5 485.5h1.5M191.5 480.8V501.5M190.0 491.5h1.5M191.5 489.5h1.5M192.5 488.2V506.5M191.0 501.5h1.5M192.5 499.5h1.5M193.5 489.7V507.0M192.0 493.5h1.5M193.5 494.5h1.5M195.5 487.4V503.3M194.0 496.5h1.5M195.5 489.5h1.5M196.5 480.7V495.2M195.0 489.5h1.5M196.5 490.5h1.5M198.5 466.3V485.4M197.0 476.5h1.5M198.5 475.5h1.5M199.5 474.2V500.1M198.0 495.5h1.5M199.5 480.5h1.5M201.5 488.2V513.7M200.0 491.5h1.5M201.5 500.5h1.5M202.5 502.4V517.4M201.0 509.5h1.5M202.5 507.5h1.5M203.5 510.2V522.8M202.0 513.5h1.5M203.5 517.5h1.5M205.5 512.4V525.7M204.0 523.5h1.5M205.5 515.5h1.5M206.5 511.0V528.6M205.0 525.5h1.5M206.5 522.5h1.5M208.5 518.0V536.5M207.0 527.5h1.5M208.5 520.5h1.5M209.5 527.7V548.3M208.0 537.5h1.5M209.5 534.5h1.5M210.5 542.4V566.5M209.0 550.5h1.5M210.5 561.5h1.5M212.5 549.7V572.8M211.0 567.5h1.5M212.5 554.5h1.5M213.5 549.6V574.4M212.0 569.5h1.5M213.5 557.5h1.5M215.5 550.3V570.8M214.0 568.5h1.5M215.5 562.5h1.5M216.5 553.4V578.2M215.0 561.5h1.5M216.5 556.5h1.5M218.5 551.4V574.5M217.0 558.5h1.5M218.5 570.5h1.5M219.5 534.1V552.9M218.0 543.5h1.5M219.5 538.5h1.5M220.5 532.0V548.3M219.0 545.5h1.5M220.5 544.5h1.5M222.5 535.0V552.7M221.0 550.5h1.5M222.5 544.5h1.5M223.5 549.4V566.3M222.0 560.5h1.5M223.5 557.5h1.5M225.5 554.5V572.9M224.0 560.5h1.5M225.5 557.5h1.5M226.5 556.0V575.2M225.0 565.5h1.5M226.5 563.5h1.5M228.5 560.6V573.8M227.0 572.5h1.5M228.5 564.5h1.5M229.5 539.7V580.0M228.0 561.5h1.5M229.5 556.5h1.5M230.5 533.2V567.0M229.0 542.5h1.5M230.5 561.5h1.5M232.5 530.2V548.9M231.0 545.5h1.5M232.5 547.5h1.5M233.5 517.5V534.6M232.0 521.5h1.5M233.5 520.5h1.5M235.5 520.3V534.5M234.0 524.5h1.5M235.5 524.5h1.5M236.5 513.2V536.3M235.0 529.5h1.5M236.5 523.5h1.5M237.5 502.9V525.3M236.0 511.5h1.5M237.5 511.5h1.5M239.5 491.7V508.6M238.0 506.5h1.5M239.5 495.5h1.5M240.5 480.0V502.2M239.0 497.5h1.5M240.5 486.5h1.5M242.5 472.2V491.8M241.0 480.5h1.5M242.5 481.5h1.5M243.5 467.0V482.5M242.0 479.5h1.5M243.5 468.5h1.5M245.5 452.9V468.5M244.0 465.5h1.5M245.5 460.5h1.5M246.5 448.0V462.7M245.0 454.5h1.5M246.5 460.5h1.5M247.5 446.3V466.5M246.0 464.5h1.5M247.5 452.5h1.5M249.5 455.6V477.1M248.0 466.5h1.5M249.5 469.5h1.5M250.5 459.5V483.6M249.0 474.5h1.5M250.5 476.5h1.5M252.5 452.0V471.1M251.0 454.5h1.5M252.5 465.5h1.5M253.5 445.0V465.9M252.0 457.5h1.5M253.5 452.5h1.5M254.5 432.1V450.8M253.0 443.5h1.5M254.5 444.5h1.5M256.5 422.1V438.6M255.0 430.5h1.5M256.5 431.5h1.5M257.5 418.0V435.3M256.0 428.5h1.5M257.5 419.5h1.5M259.5 417.7V435.9M258.0 433.5h1.5M259.5 428.5h1.5M260.5 418.2V438.9M259.0 424.5h1.5M260.5 424.5h1.5M262.5 423.4V440.2M261.0 429.5h1.5M262.5 425.5h1.5M263.5 423.8V437.1M262.0 429.5h1.5M263.5 427.5h1.5M264.5 420.8V432.6M263.0 424.5h1.5M264.5 422.5h1.5M266.5 414.8V425.7M265.0 421.5h1.5M266.5 417.5h1.5M267.5 409.1V420.5M266.0 414.5h1.5M267.5 412.5h1.5M269.5 406.5V417.0M268.0 414.5h1.5M269.5 409.5h1.5M270.5 406.5V419.0M269.0 410.5h1.5M270.5 417.5h1.5M272.5 404.5V422.0M271.0 409.5h1.5M272.5 412.5h1.5M273.5 401.3V427.5M272.0 406.5h1.5M273.5 412.5h1.5M274.5 400.6V426.0M273.0 406.5h1.5M274.5 404.5h1.5M276.5 398.3V413.9M275.0 411.5h1.5M276.5 410.5h1.5M277.5 401.3V419.0M276.0 416.5h1.5M277.5 407.5h1.5M279.5 409.1V425.2M278.0 420.5h1.5M279.5 411.5h1.5M280.5 417.2V433.0M279.0 423.5h1.5M280.5 422.5h1.5M281.5 419.1V432.2M280.0 423.5h1.5M281.5 424.5h1.5M283.5 418.8V433.6M282.0 431.5h1.5M283.5 422.5h1.5M284.5 416.7V433.4M283.0 429.5h1.5M284.5 424.5h1.5M286.5 401.8V424.7M285.0 410.5h1.5M286.5 420.5h1.5M287.5 398.9V422.9M286.0 418.5h1.5M287.5 401.5h1.5M289.5 411.1V436.7M288.0 429.5h1.5M289.5 414.5h1.5M290.5 425.7V455.2M289.0 450.5h1.5M290.5 434.5h1.5M291.5 438.5V460.7M290.0 446.5h1.5M291.5 445.5h1.5M293.5 442.5V458.5M292.0 447.5h1.5M293.5 453.5h1.5M294.5 434.7V450.7M293.0 436.5h1.5M294.5 445.5h1.5M296.5 438.6V460.4M295.0 457.5h1.5M296.5 441.5h1.5M297.5 440.3V455.5M296.0 453.5h1.5M297.5 453.5h1.5M299.5 439.3V451.2M298.0 444.5h1.5M299.5 445.5h1.5M300.5 436.4V450.0M299.0 446.5h1.5M300.5 445.5h1.5M301.5 438.3V450.5M300.0 445.5h1.5M301.5 442.5h1.5M303.5 442.7V452.0M302.0 449.5h1.5M303.5 444.5h1.5M304.5 443.2V451.5M303.0 445.5h1.5M304.5 444.5h1.5M306.5 442.2V450.6M305.0 445.5h1.5M306.5 449.5h1.5M307.5 437.0V452.4M306.0 441.5h1.5M307.5 439.5h1.5M308.5 438.1V452.4M307.0 447.5h1.5M308.5 444.5h1.5M310.5 437.8V451.5M309.0 446.5h1.5M310.5 446.5h1.5M311.5 425.0V439.4M310.0 434.5h1.5M311.5 427.5h1.5M313.5 418.4V432.8M312.0 426.5h1.5M313.5 424.5h1.5M314.5 416.7V431.0M313.0 420.5h1.5M314.5 420.5h1.5M316.5 411.9V426.5M315.0 420.5h1.5M316.5 417.5h1.5M317.5 406.9V423.0M316.0 415.5h1.5M317.5 411.5h1.5M318.5 406.1V421.8M317.0 420.5h1.5M318.5 408.5h1.5M320.5 411.3V430.1M319.0 425.5h1.5M320.5 426.5h1.5M321.5 418.2V439.2M320.0 422.5h1.5M321.5 423.5h1.5M323.5 428.5V446.9M322.0 444.5h1.5M323.5 435.5h1.5M324.5 431.7V446.9M323.0 436.5h1.5M324.5 442.5h1.5M326.5 423.1V440.5M325.0 433.5h1.5M326.5 433.5h1.5M327.5 422.8V439.2M326.0 426.5h1.5M327.5 427.5h1.5M328.5 420.6V435.7M327.0 430.5h1.5M328.5 424.5h1.5M330.5 416.7V428.6M329.0 424.5h1.5M330.5 419.5h1.5M331.5 413.0V426.5M330.0 422.5h1.5M331.5 420.5h1.5M333.5 411.4V425.9M332.0 417.5h1.5M333.5 419.5h1.5M334.5 410.9V428.9M333.0 415.5h1.5M334.5 422.5h1.5M335.5 406.3V423.0M334.0 412.5h1.5M335.5 420.5h1.5M337.5 409.2V422.6M336.0 414.5h1.5M337.5 415.5h1.5M338.5 410.8V423.9M337.0 415.5h1.5M338.5 414.5h1.5M340.5 408.3V425.7M339.0 410.5h1.5M340.5 422.5h1.5M341.5 409.3V423.7M340.0 415.5h1.5M341.5 420.5h1.5M343.5 409.0V422.7M342.0 410.5h1.5M343.5 416.5h1.5M344.5 410.1V428.8M343.0 413.5h1.5M344.5 421.5h1.5M345.5 407.8V424.0M344.0 411.5h1.5M345.5 413.5h1.5M347.5 406.9V422.1M346.0 409.5h1.5M347.5 414.5h1.5M348.5 410.4V425.7M347.0 414.5h1.5M348.5 413.5h1.5M350.5 415.3V428.8M349.0 421.5h1.5M350.5 417.5h1.5M351.5 420.9V431.5M350.0 429.5h1.5M351.5 427.5h1.5M352.5 423.6V438.8M351.0 434.5h1.5M352.5 427.5h1.5M354.5 429.2V445.9M353.0 441.5h1.5M354.5 433.5h1.5M355.5 437.9V449.4M354.0 443.5h1.5M355.5 442.5h1.5M357.5 441.8V455.3M356.0 450.5h1.5M357.5 452.5h1.5M358.5 445.0V457.3M357.0 453.5h1.5M358.5 446.5h1.5M360.5 446.5V456.9M359.0 452.5h1.5M360.5 452.5h1.5M361.5 450.9V463.0M360.0 456.5h1.5M361.5 457.5h1.5M362.5 447.7V460.1M361.0 453.5h1.5M362.5 453.5h1.5M364.5 441.4V454.6M363.0 447.5h1.5M364.5 445.5h1.5M365.5 430.3V449.5M364.0 439.5h1.5M365.5 435.5h1.5M367.5 433.5V451.1M366.0 437.5h1.5M367.5 441.5h1.5M368.5 444.9V458.0M367.0 451.5h1.5M368.5 446.5h1.5M370.5 451.8V470.8M369.0 464.5h1.5M370.5 465.5h1.5M371.5 464.6V484.7M370.0 474.5h1.5M371.5 472.5h1.5M372.5 470.1V489.3M371.0 485.5h1.5M372.5 487.5h1.5M374.5 470.6V485.8M373.0 474.5h1.5M374.5 484.5h1.5M375.5 472.0V496.5M374.0 492.5h1.5M375.5 477.5h1.5M377.5 470.7V491.1M376.0 473.5h1.5M377.5 478.5h1.5M378.5 469.5V483.2M377.0 480.5h1.5M378.5 473.5h1.5M379.5 466.8V482.3M378.0 474.5h1.5M379.5 479.5h1.5M381.5 464.5V480.0M380.0 472.5h1.5M381.5 470.5h1.5M382.5 462.4V479.1M381.0 466.5h1.5M382.5 476.5h1.5M384.5 464.3V486.3M383.0 469.5h1.5M384.5 480.5h1.5M385.5 462.5V477.0M384.0 471.5h1.5M385.5 468.5h1.5M387.5 458.0V471.1M386.0 465.5h1.5M387.5 468.5h1.5M388.5 454.2V468.8M387.0 463.5h1.5M388.5 460.5h1.5M389.5 444.0V459.8M388.0 458.5h1.5M389.5 452.5h1.5M391.5 437.2V450.7M390.0 443.5h1.5M391.5 440.5h1.5M392.5 429.0V441.8M391.0 438.5h1.5M392.5 432.5h1.5M394.5 429.8V439.0M393.0 435.5h1.5M394.5 435.5h1.5M395.5 430.6V436.4M394.0 431.5h1.5M395.5 431.5h1.5M397.5 431.2V436.2M396.0 433.5h1.5M397.5 433.5h1.5M398.5 429.9V436.5M397.0 431.5h1.5M398.5 434.5h1.5M399.5 426.6V434.6M398.0 429.5h1.5M399.5 428.5h1.5M401.5 420.3V430.7M400.0 426.5h1.5M401.5 426.5h1.5M402.5 417.1V427.8M401.0 422.5h1.5M402.5 419.5h1.5M404.5 413.4V425.4M403.0 416.5h1.5M404.5 415.5h1.5M405.5 414.5V424.3M404.0 421.5h1.5M405.5 418.5h1.5M406.5 415.0V422.7M405.0 419.5h1.5M406.5 419.5h1.5M408.5 417.0V424.8M407.0 420.5h1.5M408.5 423.5h1.5M409.5 417.8V426.0M408.0 424.5h1.5M409.5 418.5h1.5M411.5 418.9V426.4M410.0 421.5h1.5M411.5 419.5h1.5M412.5 419.5V428.5M411.0 424.5h1.5M412.5 427.5h1.5M414.5 421.1V432.3M413.0 427.5h1.5M414.5 426.5h1.5M415.5 425.1V440.6M414.0 428.5h1.5M415.5 430.5h1.5M416.5 416.9V430.7M415.0 428.5h1.5M416.5 426.5h1.5M418.5 411.1V424.5M417.0 421.5h1.5M418.5 420.5h1.5M419.5 408.9V420.1M418.0 414.5h1.5M419.5 412.5h1.5M421.5 418.6V430.7M420.0 420.5h1.5M421.5 423.5h1.5M422.5 423.4V444.1M421.0 439.5h1.5M422.5 437.5h1.5M424.5 425.2V444.9M423.0 434.5h1.5M424.5 439.5h1.5M425.5 424.6V436.7M424.0 432.5h1.5M425.5 435.5h1.5M426.5 425.1V436.1M425.0 426.5h1.5M426.5 428.5h1.5M428.5 427.1V437.6M427.0 436.5h1.5M428.5 434.5h1.5M429.5 432.8V443.1M428.0 436.5h1.5M429.5 435.5h1.5M431.5 434.3V444.8M430.0 441.5h1.5M431.5 440.5h1.5M432.5 434.7V444.4M431.0 442.5h1.5M432.5 441.5h1.5M433.5 435.3V445.9M432.0 442.5h1.5M433.5 441.5h1.5M435.5 434.9V445.9M434.0 441.5h1.5M435.5 436.5h1.5M436.5 429.6V442.7M435.0 431.5h1.5M436.5 431.5h1.5M438.5 428.1V441.8M437.0 431.5h1.5M438.5 429.5h1.5M439.5 431.6V443.5M438.0 438.5h1.5M439.5 439.5h1.5M441.5 436.5V449.8M440.0 444.5h1.5M441.5 441.5h1.5M442.5 441.7V456.5M441.0 453.5h1.5M442.5 443.5h1.5M443.5 442.9V460.8M442.0 458.5h1.5M443.5 446.5h1.5M445.5 442.7V452.6M444.0 443.5h1.5M445.5 450.5h1.5M446.5 443.5V453.4M445.0 451.5h1.5M446.5 449.5h1.5M448.5 444.2V455.4M447.0 446.5h1.5M448.5 452.5h1.5M449.5 443.6V456.5M448.0 449.5h1.5M449.5 445.5h1.5M450.5 433.0V449.9M449.0 444.5h1.5M450.5 439.5h1.5M452.5 424.9V442.2M451.0 433.5h1.5M452.5 438.5h1.5M453.5 426.3V436.2M452.0 430.5h1.5M453.5 430.5h1.5M455.5 423.3V432.6M454.0 429.5h1.5M455.5 428.5h1.5M456.5 420.2V429.4M455.0 421.5h1.5M456.5 427.5h1.5M458.5 416.3V425.4M457.0 418.5h1.5M458.5 422.5h1.5M459.5 412.1V423.6M458.0 417.5h1.5M459.5 417.5h1.5M460.5 406.7V420.0M459.0 413.5h1.5M460.5 411.5h1.5M462.5 403.1V421.9M461.0 419.5h1.5M462.5 409.5h1.5M463.5 400.5V416.5M462.0 408.5h1.5M463.5 403.5h1.5M465.5 400.7V411.9M464.0 408.5h1.5M465.5 408.5h1.5M466.5 409.0V418.2M465.0 412.5h1.5M466.5 412.5h1.5M468.5 411.4V420.6M467.0 412.5h1.5M468.5 418.5h1.5M469.5 413.5V421.9M468.0 416.5h1.5M469.5 420.5h1.5M470.5 416.7V424.8M469.0 423.5h1.5M470.5 419.5h1.5M472.5 419.7V427.7M471.0 425.5h1.5M472.5 425.5h1.5M473.5 419.0V426.8M472.0 421.5h1.5M473.5 420.5h1.5M475.5 416.7V424.7M474.0 422.5h1.5M475.5 418.5h1.5M476.5 411.6V421.8M475.0 417.5h1.5M476.5 413.5h1.5M477.5 405.0V413.1M476.0 407.5h1.5M477.5 407.5h1.5M479.5 401.7V407.2M478.0 405.5h1.5M479.5 402.5h1.5M480.5 401.9V406.9M479.0 403.5h1.5M480.5 403.5h1.5M482.5 403.7V416.5M481.0 408.5h1.5M482.5 406.5h1.5M483.5 405.7V424.2M482.0 409.5h1.5M483.5 421.5h1.5M485.5 409.3V424.4M484.0 422.5h1.5M485.5 420.5h1.5M486.5 407.6V422.3M485.0 411.5h1.5M486.5 416.5h1.5M487.5 403.6V414.4M486.0 408.5h1.5M487.5 404.5h1.5M489.5 397.4V405.8M488.0 402.5h1.5M489.5 401.5h1.5M490.5 397.6V404.6M489.0 399.5h1.5M490.5 401.5h1.5M492.5 396.9V403.9M491.0 402.5h1.5M492.5 400.5h1.5M493.5 393.6V403.0M492.0 397.5h1.5M493.5 396.5h1.5M495.5 377.6V399.5M494.0 393.5h1.5M495.5 392.5h1.5M496.5 373.3V389.4M495.0 383.5h1.5M496.5 380.5h1.5M497.5 371.3V380.8M496.0 373.5h1.5M497.5 375.5h1.5M499.5 368.0V378.8M498.0 374.5h1.5M499.5 371.5h1.5M500.5 366.1V377.1M499.0 372.5h1.5M500.5 370.5h1.5M502.5 364.4V376.7M501.0 367.5h1.5M502.5 372.5h1.5M503.5 363.9V377.0M502.0 370.5h1.5M503.5 375.5h1.5M504.5 365.5V375.6M503.0 367.5h1.5M504.5 372.5h1.5M506.5 366.3V373.4M505.0 367.5h1.5M506.5 370.5h1.5M507.5 363.4V371.4M506.0 367.5h1.5M507.5 368.5h1.5M509.5 367.7V377.3M508.0 371.5h1.5M509.5 375.5h1.5M510.5 370.2V381.0M509.0 374.5h1.5M510.5 377.5h1.5M512.5 370.2V383.7M511.0 375.5h1.5M512.5 372.5h1.5M513.5 369.4V383.3M512.0 370.5h1.5M513.5 375.5h1.5M514.5 368.9V384.1M513.0 374.5h1.5M514.5 373.5h1.5M516.5 367.4V384.0M515.0 381.5h1.5M516.5 376.5h1.5M517.5 370.6V383.7M516.0 376.5h1.5M517.5 374.5h1.5M519.5 373.6V384.6M518.0 381.5h1.5M519.5 380.5h1.5M520.5 374.7V387.4M519.0 378.5h1.5M520.5 385.5h1.5M522.5 379.1V396.3M521.0 392.5h1.5M522.5 392.5h1.5M523.5 385.8V403.3M522.0 395.5h1.5M523.5 389.5h1.5M524.5 396.9V407.8M523.0 405.5h1.5M524.5 400.5h1.5M526.5 397.6V407.8M525.0 402.5h1.5M526.5 400.5h1.5M527.5 399.1V408.4M526.0 402.5h1.5M527.5 401.5h1.5M529.5 398.6V408.7M528.0 403.5h1.5M529.5 404.5h1.5M530.5 395.5V413.5M529.0 410.5h1.5M530.5 409.5h1.5M531.5 395.4V410.0M530.0 407.5h1.5M531.5 406.5h1.5M533.5 393.1V402.2M532.0 398.5h1.5M533.5 394.5h1.5M534.5 388.0V398.1M533.0 394.5h1.5M534.5 391.5h1.5M536.5 383.8V393.9M535.0 386.5h1.5M536.5 391.5h1.5M537.5 382.6V392.5M536.0 390.5h1.5M537.5 389.5h1.5M539.5 385.3V393.8M538.0 390.5h1.5M539.5 391.5h1.5M540.5 387.4V396.9M539.0 394.5h1.5M540.5 394.5h1.5M541.5 392.2V401.8M540.0 397.5h1.5M541.5 398.5h1.5M543.5 396.3V407.0M542.0 402.5h1.5M543.5 399.5h1.5M544.5 394.4V403.7M543.0 398.5h1.5M544.5 395.5h1.5M546.5 391.3V400.8M545.0 395.5h1.5M546.5 396.5h1.5M547.5 389.9V399.2M546.0 390.5h1.5M547.5 397.5h1.5M548.5 390.6V399.0M547.0 395.5h1.5M548.5 397.5h1.5M550.5 386.5V398.6M549.0 396.5h1.5M550.5 388.5h1.5M551.5 387.7V399.0M550.0 389.5h1.5M551.5 394.5h1.5M553.5 389.7V400.6M552.0 393.5h1.5M553.5 399.5h1.5M554.5 390.9V404.8M553.0 402.5h1.5M554.5 392.5h1.5M556.5 397.8V410.9M555.0 402.5h1.5M556.5 408.5h1.5M557.5 405.3V416.2M556.0 410.5h1.5M557.5 413.5h1.5M558.5 410.8V421.5M557.0 415.5h1.5M558.5 416.5h1.5M560.5 414.9V426.7M559.0 423.5h1.5M560.5 419.5h1.5M561.5 419.1V431.1M560.0 425.5h1.5M561.5 429.5h1.5M563.5 422.4V438.7M562.0 428.5h1.5M563.5 428.5h1.5M564.5 421.0V435.0M563.0 429.5h1.5M564.5 431.5h1.5M566.5 424.6V438.8M565.0 436.5h1.5M566.5 432.5h1.5M567.5 431.0V448.5M566.0 432.5h1.5M567.5 435.5h1.5M568.5 436.9V452.5M567.0 446.5h1.5M568.5 448.5h1.5M570.5 438.7V452.2M569.0 446.5h1.5M570.5 446.5h1.5M571.5 430.8V448.3M570.0 442.5h1.5M571.5 435.5h1.5M573.5 426.5V442.6M572.0 437.5h1.5M573.5 429.5h1.5M574.5 422.3V435.0M573.0 431.5h1.5M574.5 432.5h1.5M575.5 418.8V430.8M574.0 427.5h1.5M575.5 427.5h1.5M577.5 417.7V432.6M576.0 422.5h1.5M577.5 424.5h1.5M578.5 415.7V429.0M577.0 423.5h1.5M578.5 426.5h1.5M580.5 412.6V421.6M579.0 413.5h1.5M580.5 414.5h1.5M581.5 411.3V423.5M580.0 421.5h1.5M581.5 416.5h1.5M583.5 419.0V431.5M582.0 426.5h1.5M583.5 429.5h1.5M584.5 427.8V444.2M583.0 434.5h1.5M584.5 430.5h1.5M585.5 435.3V450.9M584.0 438.5h1.5M585.5 437.5h1.5M587.5 438.9V451.0M586.0 441.5h1.5M587.5 449.5h1.5M588.5 440.8V455.5M587.0 443.5h1.5M588.5 442.5h1.5M590.5 441.9V461.4M589.0 455.5h1.5M590.5 446.5h1.5M591.5 449.0V468.8M590.0 462.5h1.5M591.5 464.5h1.5M593.5 446.5V464.7M592.0 457.5h1.5M593.5 458.5h1.5M594.5 443.0V459.3M593.0 447.5h1.5M594.5 457.5h1.5M595.5 431.6V447.7M594.0 433.5h1.5M595.5 441.5h1.5M597.5 419.0V433.1M596.0 423.5h1.5M597.5 428.5h1.5M598.5 411.8V422.4M597.0 416.5h1.5M598.5 413.5h1.5M600.5 409.6V418.7M599.0 413.5h1.5M600.5 415.5h1.5M601.5 409.3V417.6M600.0 412.5h1.5M601.5 414.5h1.5M602.5 408.6V419.8M601.0 413.5h1.5M602.5 416.5h1.5M604.5 407.3V421.0M603.0 414.5h1.5M604.5 411.5h1.5M605.5 402.0V416.4M604.0 411.5h1.5M605.5 412.5h1.5M607.5 386.8V404.7M606.0 402.5h1.5M607.5 400.5h1.5M608.5 383.4V394.4M607.0 388.5h1.5M608.5 392.5h1.5M610.5 382.5V390.1M609.0 386.5h1.5M610.5 388.5h1.5M611.5 381.4V389.1M610.0 382.5h1.5M611.5 383.5h1.5M612.5 378.9V387.7M611.0 385.5h1.5M612.5 386.5h1.5M614.5 376.8V384.5M613.0 382.5h1.5M614.5 382.5h1.5M615.5 373.7V380.0M614.0 378.5h1.5M615.5 378.5h1.5M617.5 372.5V377.5M616.0 374.5h1.5M617.5 373.5h1.5M618.5 371.4V376.4M617.0 375.5h1.5M618.5 372.5h1.5M620.5 370.4V375.4M619.0 371.5h1.5M620.5 373.5h1.5M621.5 361.5V372.7M620.0 364.5h1.5M621.5 364.5h1.5M622.5 353.0V369.2M621.0 360.5h1.5M622.5 355.5h1.5M624.5 346.8V360.5M623.0 350.5h1.5M624.5 354.5h1.5M625.5 344.2V355.6M624.0 350.5h1.5M625.5 349.5h1.5M627.5 344.3V353.0M626.0 346.5h1.5M627.5 346.5h1.5M628.5 344.9V352.0M627.0 348.5h1.5M628.5 347.5h1.5M629.5 344.1V351.4M628.0 345.5h1.5M629.5 350.5h1.5M631.5 342.6V349.9M630.0 347.5h1.5M631.5 347.5h1.5M632.5 339.5V347.0M631.0 342.5h1.5M632.5 343.5h1.5M634.5 327.6V341.0M633.0 339.5h1.5M634.5 338.5h1.5M635.5 316.9V334.0M634.0 322.5h1.5M635.5 329.5h1.5M637.5 311.8V324.6M636.0 320.5h1.5M637.5 321.5h1.5M638.5 308.0V317.8M637.0 309.5h1.5M638.5 310.5h1.5M639.5 306.9V314.5M638.0 308.5h1.5M639.5 311.5h1.5M641.5 303.2V317.5M640.0 315.5h1.5M641.5 315.5h1.5M642.5 302.8V316.2M641.0 308.5h1.5M642.5 305.5h1.5M644.5 303.3V312.3M643.0 308.5h1.5M644.5 308.5h1.5M645.5 304.5V312.0M644.0 307.5h1.5M645.5 307.5h1.5M647.5 304.2V311.0M646.0 310.5h1.5M647.5 306.5h1.5M648.5 299.8V307.8M647.0 302.5h1.5M648.5 306.5h1.5M649.5 297.7V305.6M648.0 298.5h1.5M649.5 303.5h1.5M651.5 296.5V303.3M650.0 302.5h1.5M651.5 297.5h1.5M652.5 296.4V303.1M651.0 302.5h1.5M652.5 300.5h1.5M654.5 296.1V304.2M653.0 301.5h1.5M654.5 297.5h1.5M655.5 297.6V305.9M654.0 299.5h1.5M655.5 301.5h1.5M656.5 299.9V307.9M655.0 301.5h1.5M656.5 305.5h1.5M658.5 299.5V309.7M657.0 302.5h1.5M658.5 300.5h1.5M659.5 298.2V312.2M658.0 310.5h1.5M659.5 309.5h1.5M661.5 297.8V312.0M660.0 304.5h1.5M661.5 300.5h1.5M662.5 296.8V307.8M661.0 303.5h1.5M662.5 301.5h1.5M664.5 296.0V306.6M663.0 301.5h1.5M664.5 302.5h1.5M665.5 296.1V306.1M664.0 297.5h1.5M665.5 302.5h1.5M666.5 302.4V308.0M665.0 306.5h1.5M666.5 304.5h1.5M668.5 303.5V312.6M667.0 306.5h1.5M668.5 310.5h1.5M669.5 303.6V315.3M668.0 309.5h1.5M669.5 307.5h1.5M671.5 297.4V313.6M670.0 311.5h1.5M671.5 299.5h1.5M672.5 285.5V305.3M671.0 290.5h1.5M672.5 295.5h1.5M673.5 286.2V296.8M672.0 288.5h1.5M673.5 290.5h1.5M675.5 284.8V294.7M674.0 293.5h1.5M675.5 286.5h1.5M676.5 283.7V294.5M675.0 285.5h1.5M676.5 291.5h1.5M678.5 283.6V292.3M677.0 284.5h1.5M678.5 290.5h1.5M679.5 278.8V289.0M678.0 279.5h1.5M679.5 286.5h1.5M681.5 272.3V286.7M680.0 278.5h1.5M681.5 284.5h1.5M682.5 272.0V284.7M681.0 274.5h1.5M682.5 275.5h1.5M683.5 268.9V284.2M682.0 272.5h1.5M683.5 271.5h1.5M685.5 266.3V283.3M684.0 274.5h1.5M685.5 271.5h1.5M686.5 268.1V280.4M685.0 276.5h1.5M686.5 277.5h1.5M688.5 267.5V277.5M687.0 269.5h1.5M688.5 274.5h1.5M689.5 265.1V275.4M688.0 266.5h1.5M689.5 272.5h1.5M691.5 265.7V274.4M690.0 272.5h1.5M691.5 270.5h1.5M692.5 264.5V272.6M691.0 268.5h1.5M692.5 271.5h1.5M693.5 261.5V273.2M692.0 270.5h1.5M693.5 266.5h1.5M695.5 268.5V284.8M694.0 277.5h1.5M695.5 270.5h1.5M696.5 264.8V278.6M695.0 271.5h1.5M696.5 267.5h1.5M698.5 265.5V275.7M697.0 273.5h1.5M698.5 269.5h1.5M699.5 267.3V273.6M698.0 271.5h1.5M699.5 268.5h1.5M700.5 268.4V273.4M699.0 272.5h1.5M700.5 270.5h1.5M702.5 269.0V276.3M701.0 272.5h1.5M702.5 269.5h1.5M703.5 258.9V270.9M702.0 261.5h1.5M703.5 261.5h1.5M705.5 250.2V262.2M704.0 251.5h1.5M705.5 252.5h1.5M706.5 249.9V258.2M705.0 250.5h1.5M706.5 254.5h1.5M708.5 252.9V262.0M707.0 258.5h1.5M708.5 254.5h1.5M709.5 255.0V264.7M708.0 256.5h1.5M709.5 256.5h1.5M710.5 255.2V262.3M709.0 257.5h1.5M710.5 256.5h1.5M712.5 254.2V261.2M711.0 258.5h1.5M712.5 259.5h1.5M713.5 255.0V263.4M712.0 260.5h1.5M713.5 256.5h1.5M715.5 260.2V274.0M714.0 265.5h1.5M715.5 266.5h1.5M716.5 258.8V269.7M715.0 263.5h1.5M716.5 268.5h1.5M718.5 258.9V267.7M717.0 261.5h1.5M718.5 262.5h1.5M719.5 259.5V268.4M718.0 266.5h1.5M719.5 266.5h1.5M720.5 256.9V273.6M719.0 259.5h1.5M720.5 265.5h1.5M722.5 253.3V268.2M721.0 257.5h1.5M722.5 259.5h1.5M723.5 252.2V266.0M722.0 259.5h1.5M723.5 254.5h1.5M725.5 253.7V268.5M724.0 255.5h1.5M725.5 256.5h1.5M726.5 257.3V268.0M725.0 266.5h1.5M726.5 263.5h1.5M727.5 253.5V266.4M726.0 263.5h1.5M727.5 255.5h1.5M729.5 238.0V260.9M728.0 252.5h1.5M729.5 245.5h1.5M730.5 230.1V243.3M729.0 237.5h1.5M730.5 234.5h1.5M732.5 231.6V244.5M731.0 242.5h1.5M732.5 235.5h1.5M733.5 236.7V246.9M732.0 238.5h1.5M733.5 242.5h1.5M735.5 239.4V247.9M734.0 242.5h1.5M735.5 243.5h1.5M736.5 233.7V244.1M735.0 235.5h1.5M736.5 235.5h1.5M737.5 230.3V240.8M736.0 233.5h1.5M737.5 233.5h1.5M739.5 230.4V237.5M738.0 235.5h1.5M739.5 234.5h1.5M740.5 231.2V241.0M739.0 233.5h1.5M740.5 237.5h1.5M742.5 239.5V252.4M741.0 247.5h1.5M742.5 245.5h1.5M743.5 245.6V258.4M742.0 249.5h1.5M743.5 252.5h1.5M745.5 249.3V264.4M744.0 250.5h1.5M745.5 255.5h1.5M746.5 255.2V270.2M745.0 263.5h1.5M746.5 262.5h1.5M747.5 257.8V270.4M746.0 262.5h1.5M747.5 266.5h1.5M749.5 263.3V276.4M748.0 273.5h1.5M749.5 269.5h1.5M750.5 271.1V284.5M749.0 277.5h1.5M750.5 280.5h1.5M752.5 276.4V290.3M751.0 288.5h1.5M752.5 285.5h1.5M753.5 279.6V298.0M752.0 286.5h1.5M753.5 291.5h1.5M754.5 286.0V300.0M753.0 296.5h1.5M754.5 293.5h1.5M756.5 287.3V300.7M755.0 296.5h1.5M756.5 293.5h1.5M757.5 285.9V299.6M756.0 297.5h1.5M757.5 288.5h1.5M759.5 284.5V295.2M758.0 292.5h1.5M759.5 290.5h1.5M760.5 278.2V288.2M759.0 283.5h1.5M760.5 282.5h1.5M762.5 272.2V283.6M761.0 278.5h1.5M762.5 276.5h1.5M763.5 274.8V287.7M762.0 283.5h1.5M763.5 279.5h1.5M764.5 281.1V296.3M763.0 287.5h1.5M764.5 286.5h1.5M766.5 277.3V290.3M765.0 283.5h1.5M766.5 283.5h1.5M767.5 276.6V290.0M766.0 279.5h1.5M767.5 284.5h1.5M769.5 276.8V295.2M768.0 292.5h1.5M769.5 283.5h1.5M770.5 277.9V295.3M769.0 292.5h1.5M770.5 282.5h1.5M771.5 270.9V283.2M770.0 272.5h1.5M771.5 272.5h1.5M773.5 261.3V272.4M772.0 270.5h1.5M773.5 269.5h1.5M774.5 259.5V266.5M773.0 263.5h1.5M774.5 263.5h1.5M776.5 254.8V264.0M775.0 258.5h1.5M776.5 260.5h1.5M777.5 248.7V259.8M776.0 255.5h1.5M777.5 254.5h1.5M779.5 242.0V252.7M778.0 246.5h1.5M779.5 247.5h1.5M780.5 238.6V247.1M779.0 246.5h1.5M780.5 242.5h1.5M781.5 234.6V243.9M780.0 242.5h1.5M781.5 238.5h1.5M783.5 230.0V241.5M782.0 232.5h1.5M783.5 234.5h1.5M784.5 224.4V238.3M783.0 231.5h1.5M784.5 227.5h1.5M786.5 223.3V232.3M785.0 230.5h1.5M786.5 231.5h1.5M787.5 225.4V232.5M786.0 226.5h1.5M787.5 227.5h1.5M789.5 229.7V240.5M788.0 232.5h1.5M789.5 232.5h1.5M790.5 234.3V254.7M789.0 242.5h1.5M790.5 252.5h1.5M791.5 243.9V255.9M790.0 249.5h1.5M791.5 252.5h1.5M793.5 252.8V258.6M792.0 253.5h1.5M793.5 254.5h1.5M794.5 255.4V265.8M793.0 262.5h1.5M794.5 258.5h1.5M796.5 263.1V277.1M795.0 267.5h1.5M796.5 271.5h1.5M797.5 275.0V290.0M796.0 283.5h1.5M797.5 281.5h1.5M798.5 272.6V284.8M797.0 281.5h1.5M798.5 274.5h1.5M800.5 265.8V280.2M799.0 273.5h1.5M800.5 276.5h1.5M801.5 264.6V276.3M800.0 266.5h1.5M801.5 265.5h1.5M803.5 262.4V272.0M802.0 268.5h1.5M803.5 266.5h1.5M804.5 256.1V266.7M803.0 258.5h1.5M804.5 264.5h1.5M806.5 259.0V267.4M805.0 262.5h1.5M806.5 262.5h1.5M807.5 262.0V271.9M806.0 267.5h1.5M807.5 270.5h1.5M808.5 257.1V272.2M807.0 261.5h1.5M808.5 259.5h1.5M810.5 260.7V270.5M809.0 264.5h1.5M810.5 268.5h1.5M811.5 264.1V276.0M810.0 270.5h1.5M811.5 274.5h1.5M813.5 264.3V278.3M812.0 268.5h1.5M813.5 270.5h1.5M814.5 261.6V271.1M813.0 264.5h1.5M814.5 269.5h1.5M816.5 259.5V266.1M815.0 261.5h1.5M816.5 261.5h1.5M817.5 254.1V262.2M816.0 261.5h1.5M817.5 256.5h1.5M818.5 249.6V256.9M817.0 253.5h1.5M818.5 252.5h1.5M820.5 242.0V254.5M819.0 244.5h1.5M820.5 251.5h1.5M821.5 243.1V256.5M820.0 246.5h1.5M821.5 247.5h1.5M823.5 247.8V258.8M822.0 254.5h1.5M823.5 251.5h1.5M824.5 247.5V259.9M823.0 249.5h1.5M824.5 251.5h1.5M825.5 243.0V258.3M824.0 249.5h1.5M825.5 254.5h1.5M827.5 243.2V256.3M826.0 248.5h1.5M827.5 252.5h1.5M828.5 244.8V254.4M827.0 247.5h1.5M828.5 253.5h1.5M830.5 244.8V251.3M829.0 247.5h1.5M830.5 246.5h1.5M831.5 245.9V252.6M830.0 251.5h1.5M831.5 249.5h1.5M833.5 237.8V249.5M832.0 244.5h1.5M833.5 240.5h1.5M834.5 242.7V248.9M833.0 245.5h1.5M834.5 246.5h1.5M835.5 242.2V251.7M834.0 246.5h1.5M835.5 248.5h1.5M837.5 231.0V243.7M836.0 236.5h1.5M837.5 233.5h1.5M838.5 226.4V235.4M837.0 229.5h1.5M838.5 232.5h1.5M840.5 218.2V227.9M839.0 221.5h1.5M840.5 223.5h1.5M841.5 194.1V219.7M840.0 203.5h1.5M841.5 201.5h1.5M843.5 194.5V205.8M842.0 198.5h1.5M843.5 199.5h1.5M844.5 183.8V205.3M843.0 201.5h1.5M844.5 200.5h1.5M845.5 203.8V218.1M844.0 205.5h1.5M845.5 213.5h1.5M847.5 209.3V217.6M846.0 212.5h1.5M847.5 214.5h1.5M848.5 209.2V220.5M847.0 217.5h1.5M848.5 213.5h1.5M850.5 215.6V231.0M849.0 218.5h1.5M850.5 228.5h1.5M851.5 209.7V229.9M850.0 212.5h1.5M851.5 212.5h1.5M852.5 201.7V218.5M851.0 207.5h1.5M852.5 208.5h1.5M854.5 202.7V211.7M853.0 208.5h1.5M854.5 204.5h1.5M855.5 198.2V208.5M854.0 205.5h1.5M855.5 201.5h1.5" stroke="#000" stroke-width="1" fill="none" shape-rendering="crispEdges"/>
</g>
<g clip-path="url(#c2m)">
<polyline points="16.9,790.7 17.8,804.5 19.5,827.1 20.0,863.8 21.3,837.4 23.0,840.9 24.7,830.5 25.9,795.9 27.3,743.9 28.7,709.3 30.4,712.7 32.2,730.1 33.4,761.2 34.6,792.4 36.0,761.2 37.4,717.9 38.6,688.5 39.4,677.2 40.8,697.2 42.0,735.3 43.3,778.6 44.5,863.8 44.6,830.5 53.3,835.7 55.4,816.7 57.6,816.7 59.4,778.6 61.1,738.7 62.3,724.9 63.7,747.4 65.4,795.9 66.2,877.5 67.5,888.8 68.0,839.2 68.8,865.0 71.5,837.4 72.7,795.9 74.4,764.4 76.7,778.6 78.4,821.9 78.8,866.2 80.0,872.5 81.2,883.8 83.6,813.2 85.3,761.2 86.6,734.4 87.9,775.1 89.7,830.5 90.5,883.8 92.3,813.2 94.0,743.9 95.7,697.2 97.5,669.8 99.2,679.8 100.9,717.9 102.7,764.7 104.4,813.2 105.6,830.5 106.6,819.3 107.9,827.1 110.0,925.0 111.2,983.8 113.0,980.0 114.5,925.0 117.4,839.2 120.0,795.9 122.6,747.4 125.2,724.5 126.9,752.6 128.6,813.2 129.5,861.2 129.5,853.0 131.2,847.8 133.8,842.6 135.1,821.9 136.4,787.2 137.6,782.4 139.0,813.2 140.8,847.8 142.5,875.0 144.2,795.9 146.0,737.0 147.7,747.4 149.4,727.5 150.6,757.8 152.4,761.2 154.6,743.9 156.4,709.3 157.6,699.8 159.0,726.6 160.7,769.9 162.8,806.3 165.0,805.4 166.7,761.2 168.5,726.6 170.2,692.0 171.9,674.6 173.3,662.5 174.5,692.0 175.9,743.9 177.1,795.9 178.9,847.8 179.5,903.8 181.2,901.2 182.3,839.2 184.1,834.0 186.2,925.0 187.5,978.8 189.5,937.5 195.3,813.2 197.1,743.9 198.5,702.4 200.2,726.6 201.9,764.7 203.3,813.2 204.5,835.7 206.3,839.2 208.0,851.3 210.0,925.0 211.2,950.0 213.2,968.8 215.0,925.0 220.1,795.9 221.8,739.6 223.1,761.2 224.4,813.2 225.8,853.0 226.2,880.0 228.8,813.2 231.0,761.2 232.8,712.7 234.5,692.0 235.7,709.3 237.4,737.0 239.2,692.0 240.9,648.7 241.4,640.0 243.1,655.6 244.4,659.1 245.6,692.0 247.0,743.9 248.7,813.2 249.5,880.0 251.3,813.2 252.5,761.2 253.5,742.2 254.8,761.2 256.0,721.4 258.2,697.2 259.9,717.9 261.7,747.4 262.9,759.5 264.3,762.1 266.0,733.5 268.6,722.3 270.3,726.6 272.1,761.2 273.8,816.7 275.0,778.6 276.4,726.6 277.6,712.7 279.0,761.2 280.7,830.5 281.5,873.8 283.3,835.7 285.1,795.9 286.8,761.2 288.5,739.6 289.9,778.6 291.1,813.2 291.2,900.0 292.0,900.0 292.5,921.2 292.9,856.5 293.8,887.5 294.6,830.5 297.2,804.5 299.8,801.1 301.0,811.5 302.4,789.0 304.1,816.7 305.8,795.9 307.6,769.9 309.3,747.4 311.4,724.9 312.4,730.1 313.6,709.3 315.4,723.1 317.6,709.3 319.4,730.1 320.6,761.2 321.8,804.5 323.5,880.0 324.9,813.2 326.6,790.7 328.4,783.8 330.1,787.2 331.8,790.7 333.6,778.6 335.3,761.2 336.7,747.4 337.9,775.1 339.6,795.9 341.4,806.3 343.1,821.9 344.8,846.1 346.5,813.2 348.3,795.9 350.0,827.1 351.7,847.8 352.0,865.0 353.8,881.2 356.2,888.8 358.0,870.0 361.3,821.9 363.0,778.6 364.7,737.0 365.6,727.5 367.0,750.8 368.2,795.9 369.6,830.5 370.0,882.5 372.0,912.5 373.4,813.2 373.5,875.0 375.1,795.9 376.5,777.7 377.7,809.7 379.5,792.4 381.2,799.3 382.6,801.1 384.3,778.6 385.5,754.3 387.3,752.6 388.7,709.3 390.4,666.0 392.1,640.0 393.9,674.6 395.6,726.6 397.0,756.0 399.1,750.8 400.8,753.4 402.5,737.0 403.9,731.8 405.6,747.4 407.4,778.6 409.1,802.8 410.8,813.2 412.0,810.6 413.8,830.5 415.5,846.1 417.2,821.9 418.5,778.6 419.5,754.3 421.2,795.9 423.0,847.8 423.2,881.2 426.8,830.5 432.0,865.0 433.7,847.8 434.5,868.8 435.4,813.2 437.2,778.6 438.5,764.7 440.3,795.9 441.8,875.0 443.2,906.2 445.0,870.0 446.7,830.5 449.3,813.2 450.7,778.6 451.9,743.9 453.6,738.7 455.3,737.3 457.1,740.5 458.8,752.6 460.5,768.2 462.3,769.0 464.0,761.2 465.7,787.2 468.3,813.2 470.1,825.3 473.0,870.0 474.5,881.2 476.1,813.2 477.9,761.2 479.6,717.9 482.2,718.8 483.6,761.2 484.8,813.2 486.5,862.5 487.0,795.9 488.2,764.7 490.0,757.8 491.7,778.6 493.4,795.9 495.2,761.2 496.9,730.1 499.2,707.2 500.9,717.9 502.6,730.1 503.8,761.2 505.1,763.8 506.8,775.1 508.2,804.5 509.9,827.1 511.3,839.2 513.0,811.5 514.7,813.2 516.5,834.0 518.6,818.4 520.3,830.5 522.0,854.8 522.5,880.0 523.5,901.2 525.0,875.0 526.9,847.8 528.6,830.5 530.7,804.5 532.4,761.2 534.1,692.0 535.5,664.2 537.3,692.0 539.0,743.9 540.7,795.9 542.5,839.2 543.7,851.3 545.4,830.5 547.1,795.9 548.9,769.9 550.6,754.3 551.8,795.9 553.2,830.5 554.5,888.8 555.5,880.0 557.0,907.5 558.5,923.8 560.0,910.0 562.5,910.0 564.2,887.5 566.2,870.0 567.5,895.0 569.5,875.0 570.2,813.2 571.9,761.2 573.7,723.1 574.5,722.3 576.3,743.9 578.0,761.2 579.7,795.9 581.5,830.5 585.0,880.0 586.5,903.8 588.0,875.0 591.5,870.0 594.1,795.9 595.3,726.6 597.0,695.4 598.3,686.8 600.0,700.6 601.7,735.3 603.1,778.6 604.0,811.5 605.7,811.5 606.9,778.6 608.0,726.6 609.2,700.6 610.4,684.2 611.4,709.3 612.1,730.1 613.8,743.9 614.9,761.2 617.0,752.6 619.0,747.4 621.3,748.2 623.0,761.2 623.9,726.6 625.6,688.5 626.5,682.4 627.7,709.3 629.1,757.8 630.5,775.1 631.7,782.0 633.4,761.2 634.6,726.6 635.7,705.8 637.4,702.4 638.6,712.7 639.8,743.9 641.6,775.1 643.3,794.1 645.0,787.2 646.4,761.2 647.8,726.6 649.3,707.2 651.3,716.2 653.0,721.4 654.7,735.3 656.4,769.9 658.5,809.7 659.9,795.9 661.1,769.9 662.9,764.7 664.6,778.6 666.3,804.5 668.1,827.1 669.4,844.4 670.7,813.2 672.0,778.6 673.2,743.9 674.6,713.6 676.2,730.1 677.9,752.6 680.2,743.1 681.4,752.6 682.8,782.0 684.2,809.7 685.9,839.2 688.0,846.1 689.4,813.2 691.1,787.2 693.2,804.5 695.2,821.9 697.5,831.4 699.2,818.4 701.0,801.1 702.7,778.6 704.4,757.8 705.6,747.4 707.4,764.7 709.1,787.2 711.4,795.9 713.1,809.7 714.8,816.3 717.4,814.1 719.1,792.4 720.9,761.2 722.6,752.6 724.3,761.2 725.7,795.9 726.9,830.5 727.8,857.4 728.7,813.2 729.5,761.2 730.9,734.4 732.7,747.4 733.9,795.9 734.7,823.6 736.5,795.9 738.2,775.1 740.3,764.7 741.7,787.2 743.4,830.5 744.5,871.2 746.9,847.8 748.2,799.3 750.0,830.5 753.2,880.0 754.3,830.5 754.5,895.0 756.0,870.0 756.9,840.9 758.7,813.2 760.4,761.2 762.5,727.5 764.2,737.0 765.6,757.8 767.3,771.6 768.7,795.9 769.9,824.5 771.1,823.6 772.5,787.2 774.2,761.2 776.0,752.6 777.4,698.9 779.4,689.4 780.8,702.4 782.0,735.3 783.8,757.8 785.5,738.7 787.2,778.6 789.0,821.9 792.0,882.5 794.0,905.0 795.8,917.0 797.0,887.5 799.4,795.9 800.6,743.9 801.6,727.5 802.8,743.9 804.0,757.8 805.4,767.3 808.0,769.0 809.2,795.9 811.0,821.9 812.4,841.8 813.7,813.2 815.5,795.9 817.2,743.9 818.9,723.1 820.5,706.7 821.9,743.9 823.1,787.2 824.8,814.1 827.1,811.5 828.8,795.9 830.5,778.6 832.3,767.3 834.0,789.0 835.2,795.9 836.6,761.2 838.0,726.6 839.5,704.1 840.9,733.5 842.1,717.9 843.5,709.3 844.9,743.9 846.1,795.9 847.9,827.1 850.1,847.8 853.1,813.2 854.4,778.6 855.7,754.3" fill="none" stroke="#b4b4e0" stroke-width="1" stroke-linejoin="round"/>
<g shape-rendering="crispEdges">
<line x1="16.5" y1="801.5" x2="940.5" y2="801.5" stroke="#c80032" stroke-width="1" />
</g>
<polyline points="16.9,853.9 19.0,854.8 20.4,844.4 21.8,832.3 23.5,835.7 25.2,821.9 26.5,813.2 28.2,809.7 30.4,795.9 32.2,768.2 34.2,772.5 36.0,743.9 38.6,728.3 40.3,725.7 41.7,737.0 43.3,754.3 45.0,768.2 46.7,776.8 47.8,776.0 49.0,783.8 50.7,795.9 51.6,813.2 52.4,829.7 54.2,834.0 55.4,825.3 58.1,825.3 59.4,810.6 60.6,795.9 62.3,794.1 64.0,806.3 66.3,814.9 68.0,817.5 69.8,823.6 72.4,827.9 74.4,831.4 75.8,836.6 78.4,831.4 80.1,832.3 81.4,828.8 82.4,840.0 84.1,823.6 86.2,810.6 87.6,825.3 89.3,832.3 90.5,836.6 92.3,820.1 93.7,795.9 95.2,775.1 97.5,763.8 99.2,766.4 101.3,777.7 103.5,762.1 106.1,761.2 107.9,773.4 109.6,792.4 110.5,830.5 112.0,865.0 114.5,882.5 116.2,895.0 117.5,896.2 119.5,885.0 121.2,887.5 122.5,880.0 124.3,839.2 126.0,820.1 127.8,804.5 129.2,807.1 130.7,795.9 133.0,794.7 135.1,795.9 137.3,797.6 139.0,813.2 140.8,821.9 142.0,833.1 143.4,820.1 145.1,819.3 147.2,798.5 149.4,797.6 151.2,789.0 152.9,778.6 154.6,761.2 155.8,743.9 158.1,734.4 159.8,747.4 161.2,748.2 162.4,757.8 164.1,761.2 165.9,763.0 167.6,758.1 170.2,759.5 171.9,747.4 173.7,734.4 175.4,731.8 177.1,737.0 178.4,754.3 180.1,771.6 182.3,789.0 184.1,813.2 185.8,835.7 186.2,875.0 188.0,892.5 190.5,902.5 193.0,900.0 195.0,880.0 199.3,844.4 201.1,830.5 202.3,809.7 203.7,801.1 205.4,790.7 206.8,787.2 208.0,795.9 209.2,809.7 210.6,839.2 213.0,875.0 214.5,892.5 216.2,891.2 218.0,903.8 219.5,892.5 221.2,870.0 224.4,844.4 226.2,828.8 227.9,830.5 229.6,806.3 231.4,792.4 233.5,782.9 234.8,785.5 236.6,784.6 238.0,761.2 239.7,726.6 241.4,699.8 243.1,695.4 244.5,683.3 246.1,697.2 247.8,717.9 249.6,733.5 251.3,743.9 253.0,752.6 254.8,777.7 256.0,771.6 257.7,776.0 259.1,773.4 260.5,768.2 261.7,757.8 262.9,740.5 265.1,737.9 266.9,735.3 268.3,728.3 269.8,737.0 271.2,750.8 273.3,763.0 275.0,756.0 277.3,750.8 278.7,764.7 280.2,775.1 281.9,792.4 284.2,809.7 285.9,792.4 286.8,782.9 288.5,794.1 289.9,813.2 291.1,834.0 292.9,835.7 294.6,823.6 296.8,827.1 298.1,826.2 299.8,830.5 301.5,843.5 303.2,835.7 305.0,825.3 306.7,813.2 308.4,792.4 310.2,782.0 311.9,769.9 313.6,757.8 315.4,754.3 317.1,735.3 318.8,733.9 320.6,734.9 321.8,752.6 323.2,768.2 324.9,771.6 325.8,780.3 327.5,783.8 329.2,792.4 331.0,802.8 332.3,821.0 333.6,806.3 335.3,792.4 337.4,782.0 339.6,783.8 341.4,787.2 342.6,795.9 344.0,799.3 345.3,791.5 346.5,790.7 347.8,797.6 349.1,813.2 350.9,818.4 352.6,825.3 354.3,832.3 356.1,842.6 357.8,848.7 359.5,845.2 361.2,860.0 361.3,854.8 362.7,858.2 364.4,839.2 366.1,823.6 368.2,820.1 369.9,824.5 371.7,826.2 372.5,832.3 374.3,823.6 376.0,821.9 377.7,839.2 379.5,841.8 381.2,834.0 383.5,813.2 385.2,788.1 387.3,783.8 389.0,766.4 390.7,743.9 392.5,726.6 393.9,725.7 395.6,714.5 397.3,711.4 399.4,710.1 401.1,712.4 403.4,712.7 404.6,723.1 406.0,735.3 407.7,747.4 409.4,759.5 411.2,761.2 412.9,775.1 414.6,787.2 416.7,797.6 419.0,801.1 420.7,811.5 423.0,825.3 425.4,826.2 427.1,825.3 428.5,820.1 430.2,830.5 432.0,847.8 435.4,844.4 436.6,828.8 438.9,828.8 441.0,839.2 443.2,845.2 444.9,838.3 447.2,839.2 449.3,828.8 451.9,821.9 453.6,816.7 455.3,795.9 457.1,778.6 458.8,768.2 460.5,754.3 462.3,751.7 463.5,746.5 465.2,757.8 467.5,764.7 468.7,771.6 470.1,777.7 471.8,795.9 473.5,810.6 475.6,818.4 477.0,813.2 479.1,810.6 481.3,802.8 483.1,795.9 484.8,812.3 486.0,795.9 487.7,782.0 490.0,776.0 491.7,789.0 493.4,795.9 495.5,796.7 496.9,778.6 498.6,761.2 499.9,749.1 502.1,748.8 503.3,750.8 504.7,743.9 506.4,740.1 507.8,750.8 509.0,761.2 510.8,769.9 512.5,789.0 514.2,799.3 515.4,813.2 517.7,814.9 519.4,821.9 521.2,830.5 522.9,839.2 524.6,840.9 527.2,854.8 528.6,846.1 530.3,852.2 531.5,839.2 533.3,821.9 535.0,795.9 536.7,780.3 538.5,772.5 541.1,772.0 542.8,776.8 544.2,772.5 545.9,769.0 547.1,775.1 548.9,789.0 550.6,797.6 551.8,810.6 553.2,816.7 555.3,820.1 556.7,830.5 558.4,844.4 560.0,865.0 562.0,882.5 563.8,897.5 565.5,898.8 567.5,901.2 569.5,892.5 570.0,892.5 571.2,875.0 571.2,865.0 572.8,847.8 574.0,830.5 575.4,807.1 577.5,803.7 578.9,795.9 580.2,776.8 581.5,768.2 583.2,776.8 584.4,787.2 585.8,804.5 587.2,821.9 589.2,832.3 591.0,840.9 592.4,847.8 594.1,845.2 595.8,830.5 597.0,804.5 598.3,783.8 599.3,768.2 601.4,763.0 603.1,758.6 605.2,745.7 606.9,748.2 609.2,737.9 610.4,743.9 611.8,754.3 613.5,752.6 614.9,754.3 616.6,745.7 618.7,734.4 620.4,735.3 621.8,734.4 623.0,743.9 624.8,737.0 626.5,730.9 628.2,736.1 630.5,737.0 631.7,743.9 633.4,739.6 635.1,729.2 636.9,734.4 638.6,743.9 640.3,748.2 642.1,747.4 643.3,754.3 644.7,750.8 646.4,745.7 649.0,742.2 650.7,747.4 652.5,750.0 654.2,748.2 655.9,754.3 657.7,761.2 659.4,752.6 661.1,759.5 662.9,764.7 664.6,773.4 666.3,782.0 668.1,789.0 669.8,800.2 671.5,790.7 673.2,778.6 674.5,776.0 676.7,775.1 678.4,771.6 680.2,764.7 681.9,752.6 684.2,752.2 685.4,761.2 686.6,778.6 688.0,789.0 689.4,792.4 691.1,797.6 693.2,802.8 694.6,814.9 696.3,816.3 698.4,814.9 700.1,809.7 701.8,804.5 703.6,801.1 705.6,794.1 707.4,795.9 708.8,798.5 710.1,789.0 712.2,786.4 714.0,789.0 715.7,792.4 717.4,796.7 718.8,807.1 720.5,804.5 721.7,795.0 723.5,793.8 725.2,802.8 726.4,808.0 727.8,804.5 729.5,792.4 730.4,784.6 732.1,784.1 733.9,785.5 735.1,798.5 736.5,795.9 738.2,789.0 739.9,782.9 741.3,780.6 742.5,787.2 743.7,804.5 745.1,818.4 746.9,818.4 748.9,816.7 750.3,823.6 751.7,835.7 753.5,849.6 755.2,855.6 756.6,856.2 757.8,847.0 759.5,840.9 761.3,834.0 762.5,820.1 764.2,811.5 765.6,795.9 767.3,784.6 769.4,785.1 770.8,780.3 772.2,776.0 773.9,778.2 776.0,776.8 777.4,768.2 779.1,759.5 780.8,754.3 782.0,743.9 783.8,735.3 785.5,727.5 787.2,732.7 788.5,747.4 789.8,764.7 791.2,783.8 792.4,802.8 794.2,813.2 795.9,821.9 797.1,844.4 798.5,842.6 800.2,841.8 802.0,834.0 803.7,827.1 805.1,813.2 806.3,799.3 808.0,789.0 809.2,770.8 811.5,772.5 812.4,787.2 814.1,790.3 815.5,791.0 817.2,783.8 818.9,778.6 820.1,773.4 821.9,780.3 823.1,783.8 824.8,776.8 827.1,774.2 828.3,773.4 830.0,776.0 832.3,781.2 833.5,789.0 834.9,801.1 836.3,795.9 837.5,778.6 839.2,769.9 840.4,764.7 841.8,747.4 843.5,740.5 845.3,750.8 847.0,754.3 848.4,757.8 849.6,775.1 851.3,790.7 853.1,794.1 855.3,799.3" fill="none" stroke="#006400" stroke-width="2.2" stroke-linejoin="round"/>
<polyline points="16.9,835.7 19.5,830.5 22.1,828.4 23.9,830.5 26.5,829.7 29.1,826.2 32.2,819.8 34.8,822.7 36.8,814.9 38.6,810.6 40.3,802.8 42.9,803.7 45.5,799.3 47.2,794.1 49.5,791.2 53.3,790.7 56.4,793.3 58.1,793.8 60.2,782.0 62.8,780.6 65.1,782.0 67.2,790.7 69.2,795.0 71.5,803.7 74.9,801.9 76.7,804.5 78.4,814.9 81.0,823.6 82.7,827.9 84.5,825.3 87.1,818.4 89.3,821.9 91.4,822.7 93.5,818.4 95.7,810.6 99.2,802.8 101.8,805.4 103.9,810.6 106.1,809.7 108.4,805.4 110.5,813.2 112.2,818.4 113.9,821.0 116.0,831.4 118.2,829.7 120.8,826.2 122.6,820.1 124.3,811.5 126.0,809.7 128.6,821.0 131.2,818.4 133.8,816.7 136.4,814.6 138.5,818.4 140.8,829.7 143.0,837.4 145.1,835.7 147.2,827.9 149.4,826.2 151.7,818.4 153.8,806.3 155.5,792.4 158.1,782.9 160.7,782.0 163.3,785.5 165.9,789.8 168.5,782.9 170.2,776.8 171.9,766.4 173.7,762.1 175.9,763.8 178.0,768.2 180.6,769.0 182.3,764.7 184.9,773.4 186.7,785.5 188.4,792.4 191.0,799.3 193.2,804.5 196.2,805.4 198.5,806.3 201.9,810.6 205.4,811.5 208.0,818.4 209.7,830.5 211.5,839.2 214.1,851.3 215.0,860.0 217.5,867.0 221.8,851.3 223.6,852.2 225.3,855.6 227.0,847.8 229.6,835.7 232.2,827.1 234.5,818.4 237.4,821.0 239.7,814.9 241.8,804.5 244.4,796.7 247.0,794.1 249.0,792.4 250.8,783.8 253.0,771.6 255.3,768.2 257.4,754.3 259.1,752.6 261.7,754.3 263.4,749.1 266.0,740.5 268.1,734.4 270.3,736.1 272.6,740.5 274.3,744.8 277.3,743.1 279.0,750.8 280.7,759.5 282.5,768.2 284.7,774.2 286.8,774.2 289.4,772.5 291.6,778.6 293.7,784.6 296.3,786.4 298.1,792.4 300.7,794.1 303.2,798.0 306.7,798.5 310.2,797.6 312.8,797.6 314.5,792.4 316.6,789.0 318.8,792.4 320.6,794.1 322.3,798.5 324.6,795.9 327.0,792.4 329.2,792.8 331.8,797.6 333.6,792.4 335.6,783.8 337.4,779.4 340.5,778.6 343.1,782.9 345.3,782.0 347.4,780.6 349.1,787.2 351.7,791.5 354.0,794.1 355.7,801.1 357.8,810.6 359.5,814.9 361.6,822.7 363.9,813.2 365.6,808.9 367.3,810.6 369.9,818.4 372.0,822.7 374.3,825.3 376.5,824.5 378.6,827.9 382.1,829.1 382.6,829.7 385.2,821.9 387.8,820.1 390.4,806.3 393.0,792.4 395.6,785.5 399.1,778.6 401.6,771.6 403.4,769.0 406.0,771.3 408.6,769.9 411.2,766.4 412.9,761.2 415.5,763.0 417.8,760.4 419.8,758.6 422.4,763.8 424.2,767.3 426.4,768.2 428.5,773.4 430.6,780.3 432.3,792.4 434.0,802.8 436.3,804.5 438.5,805.4 440.6,813.2 442.7,820.1 444.9,827.1 447.2,831.4 449.6,832.6 451.9,827.1 454.5,823.6 457.1,815.8 459.3,815.8 461.8,814.9 464.0,803.7 466.6,804.5 469.2,806.3 471.8,807.1 474.4,804.5 477.0,798.5 480.5,795.9 483.9,796.7 486.5,789.0 489.1,784.6 491.7,783.8 494.3,785.5 497.8,782.9 500.4,780.3 503.3,782.0 505.6,782.0 508.2,784.6 510.8,783.8 512.5,782.0 514.7,778.6 517.7,781.2 519.4,787.2 521.2,792.4 523.4,796.7 525.5,795.9 528.1,801.9 530.7,805.4 532.8,799.3 535.9,795.0 538.5,799.3 540.7,804.5 542.8,810.6 546.3,813.2 548.9,811.5 550.6,807.1 552.9,811.5 554.9,816.7 557.5,820.1 559.8,826.2 561.9,830.5 565.0,828.8 567.4,831.4 567.6,831.4 570.2,829.7 573.3,825.3 575.7,831.4 578.5,835.4 582.0,830.2 584.4,834.8 587.2,840.0 589.2,842.6 591.3,847.8 593.1,844.4 594.8,834.0 596.5,825.3 598.8,813.2 601.4,804.5 603.1,800.2 605.2,796.7 607.4,784.6 610.4,777.7 613.1,778.6 615.2,781.2 617.8,778.6 620.1,776.8 622.2,776.8 624.2,768.2 626.5,755.2 628.2,751.7 629.9,750.8 632.2,743.9 634.6,739.6 636.9,738.7 639.1,743.9 641.2,744.8 643.3,748.2 645.0,742.2 647.3,740.5 649.5,738.4 651.6,742.2 654.2,743.1 656.8,746.5 659.4,748.2 662.0,749.5 664.6,750.0 666.8,755.2 668.6,760.4 670.3,765.6 672.4,764.7 674.5,760.9 677.6,760.4 680.2,763.8 682.8,768.2 685.9,772.5 688.3,773.4 691.1,777.7 693.5,782.9 695.8,789.0 698.4,789.3 701.8,789.8 705.3,788.6 707.9,789.3 709.6,786.4 712.2,785.5 714.3,792.4 716.5,796.7 719.1,800.2 721.7,801.1 724.3,799.3 726.4,802.8 728.7,798.5 730.9,795.0 733.4,795.9 735.6,796.7 737.3,791.5 739.6,792.1 741.7,792.1 743.4,795.9 745.5,802.8 747.7,801.9 750.0,805.4 752.1,808.9 752.6,811.5 755.2,814.9 757.8,816.7 760.4,812.3 763.0,811.5 765.2,811.5 767.3,807.1 769.9,810.6 772.2,813.2 775.1,808.9 776.8,802.8 779.4,799.3 781.2,795.9 783.3,793.3 784.6,784.6 786.4,782.4 788.5,783.8 790.7,787.6 793.3,787.6 795.9,789.8 798.5,784.6 800.6,782.4 802.8,783.8 805.1,785.5 808.0,785.1 810.3,784.1 812.7,787.2 815.5,787.2 817.9,786.4 820.1,788.1 821.9,792.4 824.1,795.9 826.2,798.5 828.3,802.5 831.1,799.3 833.5,797.6 835.2,792.4 836.9,778.6 839.2,772.5 841.4,769.9 843.5,768.2 845.3,772.5 847.9,775.1 850.1,781.2 851.8,782.9 853.6,777.7 855.3,774.7" fill="none" stroke="#cc0033" stroke-width="2.2" stroke-linejoin="round"/>
<g shape-rendering="crispEdges">
<line x1="17" y1="712.5" x2="940.5" y2="712.5" stroke="#000" stroke-width="1" stroke-dasharray="2 2"/>
</g>
</g>
<g clip-path="url(#c3m)">
<polyline points="17.0,1107.0 19.5,1107.0 20.5,1126.0 26.2,1126.0 27.5,1136.0 32.5,1136.0 34.5,1092.2 39.5,1092.2 40.8,1080.5 46.2,1080.5 47.8,1117.2 52.5,1117.2 54.5,1145.2 59.5,1145.2 60.8,1132.2 66.2,1132.2 67.5,1163.0 72.5,1163.0 74.5,1133.2 79.5,1133.2 82.0,1131.5 86.2,1131.5 88.0,1130.5 93.0,1130.5 95.0,1147.0 99.5,1147.0 101.5,1097.5 106.2,1097.5 108.0,1133.0 113.0,1133.0 115.0,1156.0 119.5,1156.0 121.5,1160.2 126.2,1160.2 128.0,1130.5 133.0,1130.5 135.0,1146.2 139.5,1146.2 141.5,1122.2 146.2,1122.2 148.0,1110.5 153.0,1110.5 155.0,1109.5 159.5,1109.5 161.5,1102.5 166.2,1102.5 168.0,1096.5 173.0,1096.5 175.0,1095.8 179.5,1095.8 181.5,1113.0 186.2,1113.0 188.0,1138.5 193.0,1138.5 195.0,1149.2 200.0,1149.2 202.0,1123.5 206.5,1123.5 208.5,1163.2 213.0,1163.2 215.0,1159.5 220.0,1159.5 221.8,1142.5 226.5,1142.5 228.5,1150.2 233.2,1150.2 235.0,1147.2 240.0,1147.2 242.0,1121.5 246.8,1121.5 248.8,1092.2 253.5,1092.2 255.2,1126.0 260.2,1126.0 262.0,1099.2 266.8,1099.2 268.8,1108.5 273.5,1108.5 275.5,1116.5 280.2,1116.5 282.0,1118.5 287.0,1118.5 288.8,1123.5 293.5,1123.5 290.0,1123.5 293.0,1123.5 294.5,1144.2 300.0,1144.2 301.8,1125.2 313.0,1125.2 315.5,1116.2 320.0,1116.2 322.0,1091.2 327.5,1091.2 329.0,1102.2 333.8,1102.2 335.5,1096.5 340.0,1096.5 341.8,1066.5 347.2,1066.5 349.0,1078.2 353.2,1078.2 355.5,1118.2 360.2,1118.2 362.0,1125.2 367.0,1125.2 368.8,1117.5 373.5,1117.5 375.5,1139.2 380.0,1139.2 382.0,1137.5 387.0,1137.5 388.8,1128.2 393.5,1128.2 395.5,1091.2 400.2,1091.2 402.0,1102.2 413.2,1102.2 415.5,1113.0 420.0,1113.0 422.5,1124.2 427.0,1124.2 428.8,1108.5 434.0,1108.5 435.8,1117.2 440.2,1117.2 442.5,1109.5 447.0,1109.5 448.8,1101.5 453.8,1101.5 455.5,1052.5 460.0,1052.5 462.5,1048.5 467.0,1048.5 468.8,1061.5 473.8,1061.5 475.5,1062.2 479.0,1062.2 482.0,1049.2 486.5,1049.2 488.5,1061.5 493.8,1061.5 495.5,1035.5 500.5,1035.5 502.5,1051.2 507.0,1051.2 508.8,1039.5 514.0,1039.5 515.8,1054.5 520.5,1054.5 522.5,1077.2 527.0,1077.2 529.0,1094.2 534.0,1094.2 536.0,1090.2 540.8,1090.2 542.5,1066.5 547.2,1066.5 549.2,1079.5 554.0,1079.5 555.8,1093.5 560.8,1093.5 562.5,1111.2 567.5,1111.2 569.5,1108.5 574.5,1108.5 575.0,1082.5 581.0,1082.5 583.0,1089.5 587.5,1089.5 589.5,1112.2 594.2,1112.2 596.0,1133.2 601.2,1133.2 602.8,1061.5 608.0,1061.5 610.0,1060.2 614.2,1060.2 616.0,1050.2 621.0,1050.2 622.8,1036.2 627.5,1036.2 629.5,1053.2 634.2,1053.2 635.8,1031.5 647.5,1031.5 649.5,1050.2 654.5,1050.2 656.5,1044.5 661.2,1044.5 663.0,1045.5 668.5,1045.5 669.8,1064.0 681.2,1064.0 682.8,1044.5 688.0,1044.5 689.8,1041.5 694.5,1041.5 696.5,1061.5 701.0,1061.5 703.0,1056.2 708.0,1056.2 709.8,1043.2 714.5,1043.2 716.5,1035.5 721.5,1035.5 723.0,1046.5 728.0,1046.5 729.8,1060.2 734.5,1060.2 736.5,1039.5 741.5,1039.5 743.2,1044.5 748.0,1044.5 750.0,1054.5 754.5,1054.5 756.5,1080.5 761.2,1080.5 763.0,1091.2 768.2,1091.2 770.0,1077.2 775.0,1077.2 776.8,1058.5 782.0,1058.5 783.8,1057.2 788.5,1057.2 790.0,1051.5 795.0,1051.5 797.0,1066.5 801.8,1066.5 803.8,1075.2 808.5,1075.2 810.0,1054.5 815.0,1054.5 817.0,1049.2 821.8,1049.2 823.8,1059.2 828.5,1059.2 830.2,1060.2 835.5,1060.2 837.0,1039.5 842.0,1039.5 843.8,1036.2 848.8,1036.2 850.2,1067.2 855.5,1067.2" fill="none" stroke="#000" stroke-width="1.6" stroke-linejoin="miter"/>
</g>
<g clip-path="url(#c4m)">
<polyline points="17.0,1190.0 18.0,1183.3 19.7,1184.2 20.8,1190.0 22.5,1195.0 24.7,1191.7 26.3,1195.8 27.5,1205.0 29.2,1210.0 31.3,1214.7 33.3,1215.8 34.7,1214.7 35.8,1220.0 37.5,1223.3 39.7,1227.0 42.5,1223.7 44.7,1228.0 45.8,1223.3 47.5,1218.7 48.7,1219.7 50.0,1220.8 51.3,1213.0 52.5,1212.5 54.2,1218.3 56.3,1218.0 58.7,1219.2 60.8,1223.0 62.5,1218.3 63.3,1201.7 64.7,1203.3 66.3,1186.7 68.0,1195.8 70.0,1186.7 71.3,1188.3 73.0,1201.7 74.3,1209.2 75.8,1193.3 77.0,1194.7 78.3,1183.7 80.0,1187.5 81.7,1190.0 83.3,1198.3 85.0,1203.3 86.3,1207.0 87.5,1194.2 89.2,1197.5 90.8,1198.3 92.0,1200.0 93.3,1198.3 95.0,1202.5 97.5,1208.3 100.0,1207.5 101.7,1209.2 103.3,1211.3 105.3,1210.8 107.0,1213.3 108.7,1210.0 110.0,1205.0 111.3,1185.0 113.0,1186.7 114.7,1195.0 116.0,1188.0 117.5,1192.5 120.0,1195.8 122.5,1200.0 124.2,1205.0 125.8,1205.0 127.0,1201.7 129.2,1200.8 130.8,1205.0 133.3,1203.8 135.3,1207.5 137.5,1210.8 139.2,1205.3 141.7,1205.0 143.3,1210.8 145.3,1210.0 147.5,1213.3 150.8,1215.8 153.3,1211.7 155.3,1217.5 157.5,1220.8 159.2,1213.7 160.8,1218.3 163.0,1220.8 165.8,1220.0 167.5,1225.0 169.2,1224.7 170.8,1225.8 172.5,1225.0 175.8,1226.3 177.5,1221.7 178.7,1214.2 180.0,1213.7 182.0,1219.2 183.7,1210.0 185.3,1208.0 187.5,1208.3 190.0,1209.7 191.7,1207.5 193.3,1205.3 194.7,1210.8 195.0,1211.7 197.0,1215.8 198.7,1210.0 200.3,1205.0 202.0,1206.7 204.2,1205.8 205.8,1207.5 207.5,1203.3 209.7,1202.5 211.3,1194.2 213.0,1189.2 214.7,1195.0 216.3,1191.7 217.5,1191.7 219.2,1197.5 221.3,1200.0 223.0,1194.2 224.7,1191.7 226.3,1186.7 228.3,1186.3 230.0,1190.0 232.0,1191.7 234.2,1194.7 236.3,1196.3 238.3,1196.7 240.0,1200.0 241.7,1204.2 243.3,1205.3 245.0,1208.3 248.7,1208.7 250.8,1211.3 252.5,1211.7 254.2,1208.0 255.8,1212.5 257.5,1216.7 259.2,1213.7 260.8,1211.7 262.5,1213.3 264.2,1215.0 265.8,1219.2 267.5,1222.5 269.7,1223.3 271.3,1220.8 272.5,1218.7 274.2,1221.7 275.8,1225.0 277.5,1227.0 279.2,1221.7 280.8,1218.3 282.5,1217.5 284.2,1217.0 285.3,1210.8 286.7,1217.5 288.3,1220.8 290.0,1217.0 292.5,1217.5 294.2,1223.3 295.8,1220.0 297.5,1221.7 299.7,1220.3 301.7,1218.7 303.3,1220.3 305.3,1220.0 307.5,1217.0 309.2,1218.7 310.8,1218.3 312.5,1220.8 314.2,1223.0 315.3,1222.0 317.0,1228.7 319.2,1227.5 320.8,1225.0 323.0,1223.0 325.0,1225.3 327.5,1227.0 329.7,1228.3 331.3,1228.7 332.5,1224.7 334.2,1227.5 335.8,1230.0 338.0,1228.3 339.7,1227.5 341.3,1225.8 343.3,1223.0 345.3,1223.7 347.0,1225.8 348.3,1228.7 349.7,1224.2 351.3,1223.7 353.0,1217.0 354.7,1218.3 356.3,1220.8 358.3,1221.7 360.3,1223.0 362.5,1224.7 364.7,1228.7 366.7,1226.7 368.3,1226.7 369.7,1216.7 370.8,1211.7 372.0,1207.0 373.0,1210.8 374.2,1213.7 375.0,1208.7 375.8,1213.7 377.0,1210.3 378.3,1210.8 379.7,1219.2 380.0,1220.0 381.7,1218.0 383.7,1218.7 385.3,1222.5 387.5,1225.0 389.2,1227.5 391.7,1228.3 394.2,1227.5 396.7,1229.2 399.2,1227.5 401.7,1228.0 404.2,1233.0 406.3,1233.3 408.3,1234.2 410.0,1233.0 411.7,1234.7 413.3,1228.7 415.3,1228.3 417.0,1235.8 419.2,1235.8 420.8,1231.7 422.0,1229.7 423.7,1224.7 424.7,1232.5 426.7,1233.3 428.0,1232.0 430.0,1233.7 432.5,1233.3 434.2,1230.8 436.3,1236.3 438.3,1233.7 440.0,1231.7 442.5,1224.7 444.2,1229.2 446.7,1232.0 448.7,1231.3 450.3,1238.3 452.0,1239.7 454.2,1242.0 458.0,1242.0 459.7,1239.7 461.7,1242.0 463.3,1240.8 465.0,1243.0 467.0,1242.5 469.2,1244.7 470.8,1245.0 472.5,1242.0 474.2,1241.7 476.3,1243.0 479.7,1243.0 481.7,1242.0 483.3,1238.0 485.3,1239.2 487.0,1238.7 488.7,1243.0 494.2,1243.0 496.3,1241.7 498.3,1243.3 500.3,1242.5 502.5,1244.2 503.7,1240.8 505.0,1243.3 507.0,1242.0 508.3,1235.8 510.3,1236.3 511.7,1234.2 513.0,1236.3 515.0,1236.3 517.0,1236.7 519.2,1239.2 520.8,1235.0 522.5,1233.0 523.7,1231.7 525.3,1232.5 527.0,1233.0 528.7,1235.3 530.3,1233.0 532.0,1237.0 534.2,1240.0 536.3,1242.5 538.3,1244.2 540.3,1242.0 542.5,1240.3 544.2,1240.8 545.8,1242.0 548.0,1241.7 550.0,1244.7 552.0,1242.0 554.2,1241.3 555.8,1236.7 557.5,1232.0 559.2,1233.0 561.3,1228.0 563.3,1232.0 565.0,1231.3 566.3,1231.3 567.5,1226.3 569.7,1228.7 571.7,1232.0 573.7,1232.0 575.8,1235.3 577.5,1233.7 578.7,1227.0 579.7,1232.0 581.3,1230.3 583.0,1220.8 584.2,1219.7 585.8,1219.7 587.5,1226.7 589.7,1223.7 591.3,1221.7 593.0,1224.2 594.7,1230.8 596.7,1235.8 598.7,1239.2 600.8,1239.2 602.5,1240.0 603.7,1238.7 605.3,1240.8 606.7,1239.7 608.7,1241.3 610.8,1241.3 613.0,1243.3 615.0,1245.3 617.5,1246.3 620.0,1245.3 623.0,1244.2 625.0,1245.0 627.0,1244.7 629.2,1245.3 630.8,1244.7 632.5,1246.3 634.2,1245.8 635.8,1247.5 638.3,1246.7 641.3,1246.7 642.5,1242.5 644.7,1243.0 646.7,1244.7 649.2,1245.8 651.7,1246.3 654.2,1244.2 656.3,1241.3 658.3,1242.0 660.3,1244.2 662.5,1245.3 664.7,1245.8 667.0,1243.3 669.7,1239.7 671.7,1242.0 674.2,1245.8 676.3,1244.2 678.3,1243.3 680.8,1243.0 682.5,1240.8 684.7,1242.0 687.0,1242.5 689.7,1245.0 692.0,1244.7 693.3,1242.5 694.7,1237.0 696.3,1239.7 698.0,1241.3 699.7,1239.7 701.7,1237.5 703.7,1239.7 705.8,1242.0 708.3,1243.0 710.0,1242.5 712.5,1244.2 714.7,1240.8 716.7,1240.3 718.7,1239.2 720.3,1238.7 721.7,1242.5 723.7,1241.3 725.3,1240.3 727.5,1241.3 729.7,1244.2 732.5,1244.2 734.7,1244.2 736.7,1245.0 738.7,1243.3 740.8,1241.7 742.5,1239.7 744.7,1235.8 746.7,1238.3 748.3,1239.2 749.7,1237.0 750.0,1239.2 751.7,1235.8 753.3,1228.3 755.3,1229.2 757.0,1229.7 758.7,1228.7 760.3,1233.0 761.7,1237.0 763.7,1237.5 765.8,1238.7 767.5,1240.0 769.2,1237.5 770.8,1238.7 772.5,1243.0 774.7,1243.7 777.0,1244.7 779.2,1246.3 780.8,1243.3 782.5,1245.3 784.7,1247.0 787.0,1247.5 789.2,1247.0 790.8,1245.8 792.5,1247.0 794.7,1245.3 796.7,1240.8 798.7,1244.2 800.8,1244.7 803.0,1245.3 805.0,1246.3 807.5,1245.8 809.7,1247.5 811.7,1247.0 813.7,1245.8 815.3,1246.3 817.5,1243.3 819.2,1243.7 820.8,1243.3 823.0,1246.3 825.8,1246.7 828.3,1247.5 830.8,1247.0 833.0,1246.7 835.3,1246.3 837.5,1244.7 839.7,1245.8 841.7,1243.3 843.3,1239.2 845.0,1235.0 846.3,1237.5 848.0,1239.2 849.7,1230.3 851.3,1229.7 852.5,1234.7 854.2,1233.0 855.3,1232.0" fill="none" stroke="#000" stroke-width="1.7" stroke-linejoin="round"/>
</g>
<g clip-path="url(#c1s)">
<polyline points="998.2,375.0 1002.5,373.2 1007.5,370.0 1012.5,363.8 1018.8,358.8 1028.8,345.0 1033.8,330.0 1038.8,315.0 1043.8,303.8 1053.8,290.0 1061.2,282.5 1068.8,275.5 1073.8,266.2 1078.8,258.8 1083.8,251.2" fill="none" stroke="#00008b" stroke-width="1.15" />
<polyline points="1030.0,592.0 1033.8,582.5 1038.8,568.8 1043.8,560.0 1048.8,552.5 1053.8,545.0 1058.8,539.5 1063.8,537.5 1067.5,535.5 1072.5,527.5 1078.8,518.8 1083.8,511.8" fill="none" stroke="#2020a0" stroke-width="1.2" stroke-dasharray="2 2.5"/>
<path d="M998.5 540.0V581.2M995.5 555.5h3M998.5 543.5h3M1003.5 493.2V562.5M1000.5 541.5h3M1003.5 550.5h3M1008.5 523.2V585.5M1005.5 547.5h3M1008.5 559.5h3M1013.5 479.2V566.2M1010.5 563.5h3M1013.5 480.5h3M1018.5 453.2V499.5M1015.5 486.5h3M1018.5 475.5h3M1023.5 384.2V470.5M1020.5 470.5h3M1023.5 431.5h3M1028.5 367.0V406.2M1025.5 405.5h3M1028.5 392.5h3M1033.5 252.5V383.5M1030.5 383.5h3M1033.5 258.5h3M1038.5 209.2V277.5M1035.5 275.5h3M1038.5 213.5h3M1043.5 181.2V323.8M1040.5 220.5h3M1043.5 310.5h3M1048.5 317.0V394.5M1045.5 323.5h3M1048.5 379.5h3M1053.5 345.0V390.5M1050.5 356.5h3M1053.5 356.5h3M1058.5 335.0V373.8M1055.5 350.5h3M1058.5 366.5h3M1063.5 384.2V466.8M1060.5 393.5h3M1063.5 457.5h3M1068.5 351.2V464.5M1065.5 462.5h3M1068.5 443.5h3M1073.5 294.2V405.0M1070.5 405.5h3M1073.5 324.5h3M1078.5 307.5V360.8M1075.5 310.5h3M1078.5 333.5h3M1083.5 274.2V335.8M1080.5 318.5h3M1083.5 296.5h3" stroke="#000" stroke-width="1" fill="none" shape-rendering="crispEdges"/>
</g>
<g clip-path="url(#c2s)">
<polyline points="998.2,791.2 1003.2,810.0 1008.2,846.2 1013.2,795.0 1018.2,740.0 1023.2,662.0 1028.2,724.5 1033.2,698.8 1038.2,672.5 1043.8,710.0 1048.8,805.0 1053.8,915.0 1058.8,931.2 1063.8,956.2 1068.2,983.2 1073.2,930.0 1078.2,862.5 1083.2,765.5" fill="none" stroke="#b4b4e0" stroke-width="1" stroke-linejoin="round"/>
<g shape-rendering="crispEdges">
<line x1="995.5" y1="864.5" x2="1090.5" y2="864.5" stroke="#c80032" stroke-width="1" />
</g>
<polyline points="998.8,823.8 1003.2,840.0 1008.2,862.0 1013.2,832.5 1018.2,806.0 1023.2,795.0 1028.2,783.8 1033.2,752.5 1038.2,736.8 1043.8,746.2 1048.8,757.5 1053.8,767.0 1058.8,770.5 1063.8,798.5 1068.2,842.5 1073.2,847.5 1078.2,850.8 1083.2,860.8" fill="none" stroke="#006400" stroke-width="2.3" stroke-linejoin="round"/>
<polyline points="998.8,857.0 1003.2,853.2 1008.2,845.0 1013.2,830.0 1018.2,815.0 1023.2,802.0 1028.2,798.8 1033.2,798.2 1038.2,793.2 1043.8,798.8 1048.8,803.8 1053.8,810.0 1058.8,812.5 1063.8,819.5 1068.2,824.2 1073.2,818.8 1078.2,813.8 1083.2,807.0" fill="none" stroke="#cc0033" stroke-width="2.3" stroke-linejoin="round"/>
<g shape-rendering="crispEdges">
<line x1="995.5" y1="677.5" x2="1092.5" y2="677.5" stroke="#000" stroke-width="1" stroke-dasharray="2 2"/>
</g>
</g>
<g clip-path="url(#c3s)">
<polyline points="998.8,1133.0 1008.2,1133.0 1013.2,1045.5 1033.2,1045.5 1038.2,1031.2 1058.2,1031.2 1063.2,1163.2 1083.2,1163.2" fill="none" stroke="#000" stroke-width="1.6" />
</g>
<g clip-path="url(#c4s)">
<polyline points="998.8,1246.2 1003.2,1247.5 1008.2,1246.2 1013.2,1242.5 1018.2,1241.2 1023.2,1246.2 1028.2,1239.2 1033.2,1238.0 1038.2,1223.8 1043.2,1207.5 1048.2,1200.8 1053.2,1218.0 1058.2,1220.5 1063.2,1182.0 1068.2,1177.5 1073.2,1201.2 1078.2,1199.2 1083.2,1186.8" fill="none" stroke="#000" stroke-width="1.7" stroke-linejoin="round"/>
</g>
<g shape-rendering="crispEdges">
<line x1="8.5" y1="28" x2="8.5" y2="1253" stroke="#6482ba" stroke-width="1" stroke-dasharray="2 4"/>
<line x1="115.5" y1="28" x2="115.5" y2="1253" stroke="#6482ba" stroke-width="1" stroke-dasharray="2 4"/>
<line x1="142.5" y1="28" x2="142.5" y2="1253" stroke="#a4a4fc" stroke-width="1" stroke-dasharray="2 4"/>
<line x1="193.5" y1="28" x2="193.5" y2="1253" stroke="#6482ba" stroke-width="1" stroke-dasharray="2 4"/>
<line x1="217.5" y1="28" x2="217.5" y2="1253" stroke="#6482ba" stroke-width="1" stroke-dasharray="2 4"/>
<line x1="226.5" y1="28" x2="226.5" y2="1253" stroke="#6666f6" stroke-width="1" stroke-dasharray="2 4"/>
<line x1="248.5" y1="28" x2="248.5" y2="1253" stroke="#6666f6" stroke-width="1" stroke-dasharray="2 4"/>
<line x1="293.5" y1="28" x2="293.5" y2="1253" stroke="#6666f6" stroke-width="1" stroke-dasharray="2 4"/>
<line x1="323.5" y1="28" x2="323.5" y2="1253" stroke="#6482ba" stroke-width="1" stroke-dasharray="2 4"/>
<line x1="371.5" y1="28" x2="371.5" y2="1253" stroke="#6482ba" stroke-width="1" stroke-dasharray="2 4"/>
<line x1="385.5" y1="28" x2="385.5" y2="1253" stroke="#6482ba" stroke-width="1" stroke-dasharray="2 4"/>
<line x1="442.5" y1="28" x2="442.5" y2="1253" stroke="#6482ba" stroke-width="1" stroke-dasharray="2 4"/>
<line x1="474.5" y1="28" x2="474.5" y2="1253" stroke="#a4a4fc" stroke-width="1" stroke-dasharray="2 4"/>
<line x1="486.5" y1="28" x2="486.5" y2="1253" stroke="#a4a4fc" stroke-width="1" stroke-dasharray="2 4"/>
<line x1="522.5" y1="28" x2="522.5" y2="1253" stroke="#6482ba" stroke-width="1" stroke-dasharray="2 4"/>
<line x1="569.5" y1="28" x2="569.5" y2="1253" stroke="#6482ba" stroke-width="1" stroke-dasharray="2 4"/>
<line x1="591.5" y1="28" x2="591.5" y2="1253" stroke="#8686fa" stroke-width="1" stroke-dasharray="2 4"/>
<line x1="728.5" y1="28" x2="728.5" y2="1253" stroke="#6666f6" stroke-width="1" stroke-dasharray="2 4"/>
<line x1="754.5" y1="28" x2="754.5" y2="1253" stroke="#6666f6" stroke-width="1" stroke-dasharray="2 4"/>
<line x1="771.5" y1="28" x2="771.5" y2="1253" stroke="#6666f6" stroke-width="1" stroke-dasharray="2 4"/>
<line x1="796.5" y1="28" x2="796.5" y2="1253" stroke="#6666f6" stroke-width="1" stroke-dasharray="2 4"/>
<line x1="812.5" y1="28" x2="812.5" y2="1253" stroke="#6666f6" stroke-width="1" stroke-dasharray="2 4"/>
<line x1="851.5" y1="28" x2="851.5" y2="1253" stroke="#6666f6" stroke-width="1" stroke-dasharray="2 4"/>
</g>
<polygon points="1088.5,95.5 1092.5,90.5 1121.5,90.5 1121.5,100.5 1092.5,100.5" fill="#fff" stroke="#000" stroke-width="1.1"/>
<text x="1092.8 1098.8 1104.8 1107.8 1113.8" y="99" font-family="Liberation Sans, sans-serif" font-size="10.2" fill="#000" font-weight="normal" text-rendering="geometricPrecision" filter="url(#crisp)">54.38</text>
<polygon points="1088.5,250.5 1092.5,245.5 1139,245.5 1139,255.5 1092.5,255.5" fill="#fff" stroke="#000080" stroke-width="1.1"/>
<text x="1092.8 1098.8 1104.8 1110.8 1116.8 1122.8 1125.8 1131.8" y="254" font-family="Liberation Sans, sans-serif" font-size="10.2" fill="#000" font-weight="normal" text-rendering="geometricPrecision" filter="url(#crisp)">40991.19</text>
<polygon points="1088.5,296 1092.5,290.5 1139,290.5 1139,301.5 1092.5,301.5" fill="#fff" stroke="#000" stroke-width="1.1"/>
<text x="1092.8 1098.8 1104.8 1110.8 1116.8 1122.8 1125.8 1131.8" y="300" font-family="Liberation Sans, sans-serif" font-size="10.4" fill="#000" font-weight="bold" text-rendering="geometricPrecision" filter="url(#crisp)">40743.33</text>
<polygon points="1088.5,511.5 1092.5,506.5 1139,506.5 1139,516.5 1092.5,516.5" fill="#fff" stroke="#000080" stroke-width="1.1"/>
<text x="1092.8 1098.8 1104.8 1110.8 1116.8 1122.8 1125.8 1131.8" y="515" font-family="Liberation Sans, sans-serif" font-size="10.2" fill="#000" font-weight="normal" text-rendering="geometricPrecision" filter="url(#crisp)">39551.41</text>
<polygon points="1088.5,724 1092.5,718.5 1115.5,718.5 1115.5,729.5 1092.5,729.5" fill="#fff" stroke="#8a9a9a" stroke-width="1.1"/>
<text x="1092.8 1098.8 1101.8 1107.8" y="728" font-family="Liberation Sans, sans-serif" font-size="10.4" fill="#000" font-weight="bold" text-rendering="geometricPrecision" filter="url(#crisp)">9.00</text>
<polygon points="1088.5,764.5 1092.5,759.5 1115.5,759.5 1115.5,769.5 1092.5,769.5" fill="#fff" stroke="#000080" stroke-width="1.1"/>
<text x="1092.8 1098.8 1101.8 1107.8" y="768" font-family="Liberation Sans, sans-serif" font-size="10.2" fill="#000" font-weight="normal" text-rendering="geometricPrecision" filter="url(#crisp)">6.33</text>
<polygon points="1088.5,805.5 1092.5,800.5 1115.5,800.5 1115.5,810.5 1092.5,810.5" fill="#fff" stroke="#c00030" stroke-width="1.1"/>
<text x="1092.8 1098.8 1101.8 1107.8" y="809" font-family="Liberation Sans, sans-serif" font-size="10.2" fill="#000" font-weight="normal" text-rendering="geometricPrecision" filter="url(#crisp)">3.70</text>
<polygon points="1088.5,860.5 1092.5,855.5 1115.5,855.5 1115.5,865.5 1092.5,865.5" fill="#fff" stroke="#006000" stroke-width="1.1"/>
<text x="1092.8 1098.8 1101.8 1107.8" y="864" font-family="Liberation Sans, sans-serif" font-size="10.2" fill="#000" font-weight="normal" text-rendering="geometricPrecision" filter="url(#crisp)">0.20</text>
<polygon points="1088.5,1163 1092.5,1157.5 1121.5,1157.5 1121.5,1168.5 1092.5,1168.5" fill="#fff" stroke="#000" stroke-width="1.1"/>
<text x="1092.8 1098.8 1104.8 1107.8 1113.8" y="1167" font-family="Liberation Sans, sans-serif" font-size="10.4" fill="#000" font-weight="bold" text-rendering="geometricPrecision" filter="url(#crisp)">11.50</text>
<polygon points="1088.5,1186 1092.5,1180.5 1121.5,1180.5 1121.5,1191.5 1092.5,1191.5" fill="#fff" stroke="#000" stroke-width="1.1"/>
<text x="1092.8 1098.8 1104.8 1107.8 1113.8" y="1190" font-family="Liberation Sans, sans-serif" font-size="10.4" fill="#000" font-weight="bold" text-rendering="geometricPrecision" filter="url(#crisp)">17.69</text>
</svg>
</body></html>
